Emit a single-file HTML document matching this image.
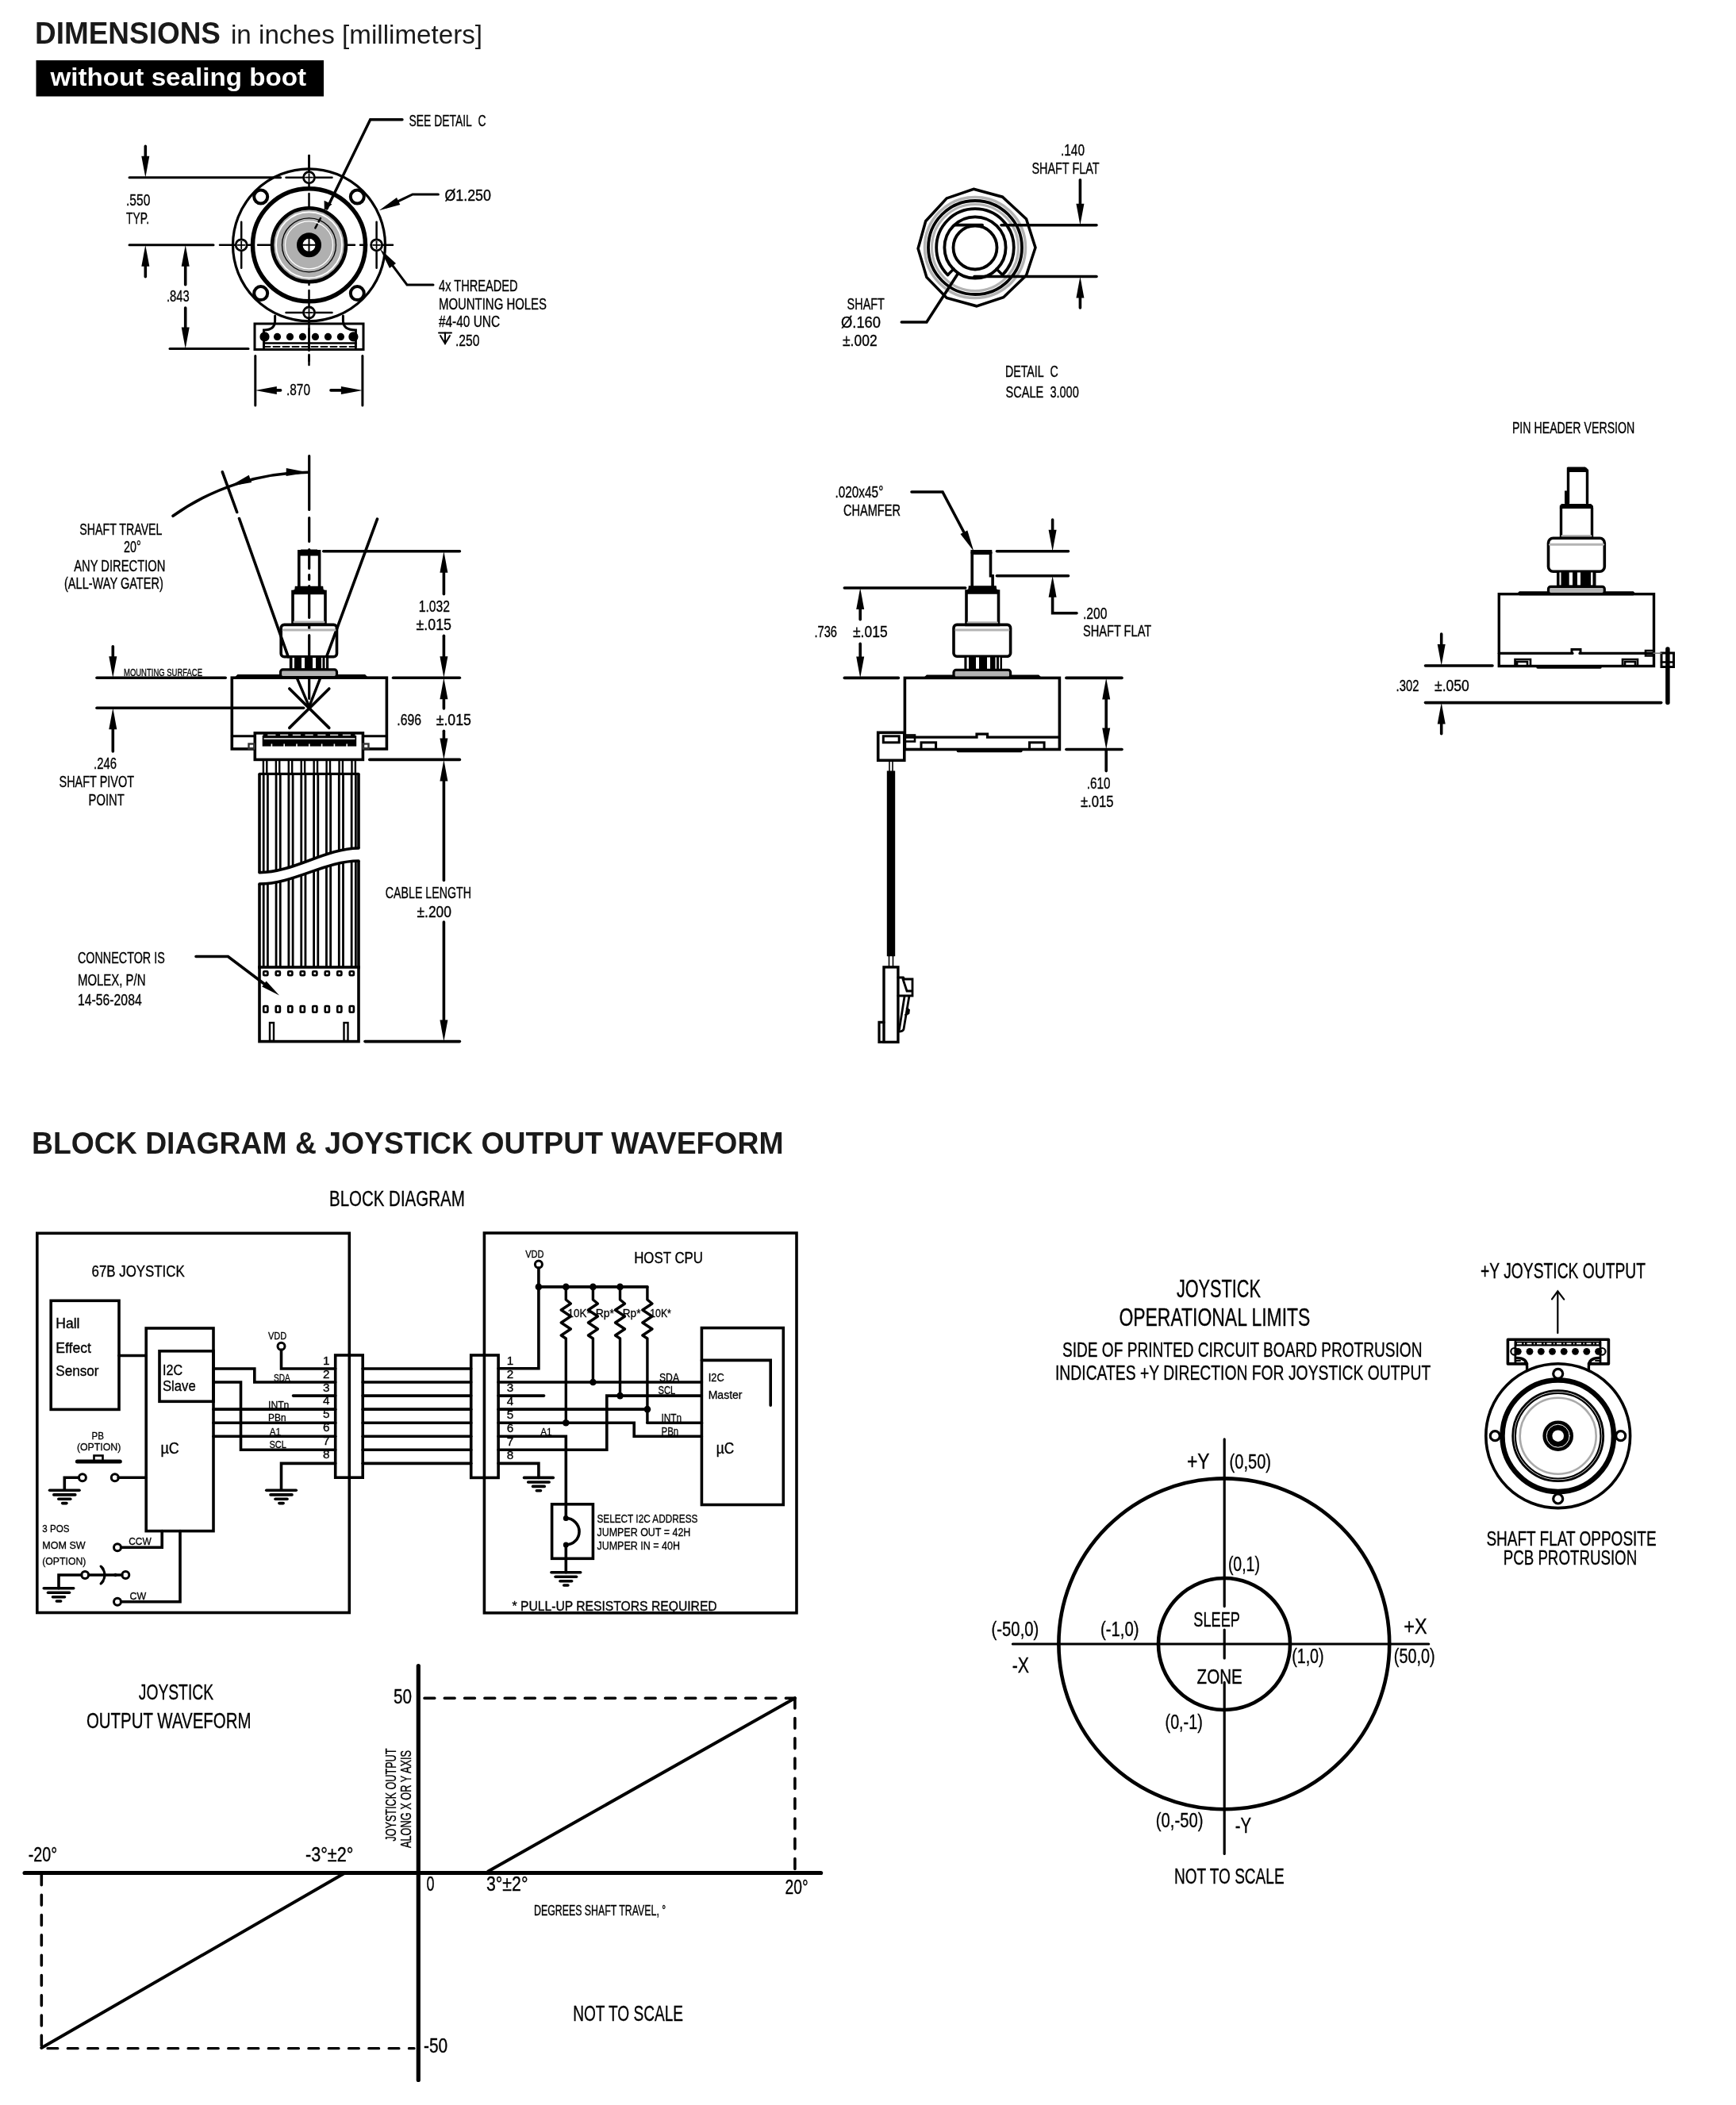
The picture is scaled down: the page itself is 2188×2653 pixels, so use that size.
<!DOCTYPE html>
<html><head><meta charset="utf-8"><style>
html,body{margin:0;padding:0;background:#fff;}
svg{display:block;will-change:transform;}
text{font-family:"Liberation Sans",sans-serif;}
</style></head><body>
<svg width="2188" height="2653" viewBox="0 0 2188 2653" stroke-linecap="round">
<rect x="0" y="0" width="2188" height="2653" fill="#fff"/>
<text x="44" y="55" font-size="38" text-anchor="start" font-weight="bold" fill="#1a1a1a" textLength="234" lengthAdjust="spacingAndGlyphs" >DIMENSIONS</text>
<text x="291" y="55" font-size="34" text-anchor="start" font-weight="normal" fill="#1a1a1a" textLength="317" lengthAdjust="spacingAndGlyphs" >in inches [millimeters]</text>
<rect x="45.5" y="76" width="362.5" height="45.5" stroke="#000" stroke-width="0" fill="#000" stroke="none"/>
<text x="63.5" y="108" font-size="32" text-anchor="start" font-weight="bold" fill="#fff" textLength="322.5" lengthAdjust="spacingAndGlyphs" >without sealing boot</text>
<text x="40" y="1454" font-size="38" text-anchor="start" font-weight="bold" fill="#1a1a1a" textLength="947.5" lengthAdjust="spacingAndGlyphs" >BLOCK DIAGRAM &amp; JOYSTICK OUTPUT WAVEFORM</text>
<line x1="277" y1="308.8" x2="502" y2="308.8" stroke="#000" stroke-width="2.5" stroke-dasharray="26,7,8,7"/>
<line x1="389.5" y1="196" x2="389.5" y2="300" stroke="#000" stroke-width="2.5" stroke-dasharray="26,7,8,7"/>
<line x1="389.5" y1="318" x2="389.5" y2="460" stroke="#000" stroke-width="2.5" stroke-dasharray="26,7,8,7"/>
<circle cx="389.5" cy="308.8" r="96" stroke="#000" stroke-width="3.2" fill="none" />
<circle cx="389.5" cy="308.8" r="71" stroke="#000" stroke-width="5.5" fill="none" />
<circle cx="389.5" cy="308.8" r="46.5" stroke="#000" stroke-width="4.5" fill="#b0b0b0" />
<circle cx="389.5" cy="308.8" r="41.5" stroke="#fff" stroke-width="1.8" fill="none" />
<circle cx="389.5" cy="308.8" r="34" stroke="#000" stroke-width="1.3" fill="none" />
<circle cx="389.5" cy="308.8" r="30" stroke="#fff" stroke-width="1.2" fill="none" />
<circle cx="389.5" cy="308.8" r="15.5" stroke="#000" stroke-width="0" fill="#000" stroke="none"/>
<circle cx="389.5" cy="308.8" r="8" stroke="#000" stroke-width="0" fill="#fff" stroke="none"/>
<line x1="381.5" y1="308.8" x2="397.5" y2="308.8" stroke="#000" stroke-width="2" />
<line x1="389.5" y1="300.8" x2="389.5" y2="316.8" stroke="#000" stroke-width="2" />
<circle cx="389.5" cy="223.7" r="7" stroke="#000" stroke-width="2.8" fill="#fff" />
<line x1="385.0" y1="223.7" x2="394.0" y2="223.7" stroke="#000" stroke-width="1.8" />
<line x1="389.5" y1="219.2" x2="389.5" y2="228.2" stroke="#000" stroke-width="1.8" />
<line x1="360.5" y1="223.7" x2="381.5" y2="223.7" stroke="#000" stroke-width="2.5" />
<line x1="397.5" y1="223.7" x2="418.5" y2="223.7" stroke="#000" stroke-width="2.5" />
<circle cx="304.2" cy="308.8" r="7" stroke="#000" stroke-width="2.8" fill="#fff" />
<line x1="299.7" y1="308.8" x2="308.7" y2="308.8" stroke="#000" stroke-width="1.8" />
<line x1="304.2" y1="304.3" x2="304.2" y2="313.3" stroke="#000" stroke-width="1.8" />
<line x1="304.2" y1="279.8" x2="304.2" y2="300.8" stroke="#000" stroke-width="2.5" />
<line x1="304.2" y1="316.8" x2="304.2" y2="337.8" stroke="#000" stroke-width="2.5" />
<circle cx="474.6" cy="308.8" r="7" stroke="#000" stroke-width="2.8" fill="#fff" />
<line x1="470.1" y1="308.8" x2="479.1" y2="308.8" stroke="#000" stroke-width="1.8" />
<line x1="474.6" y1="304.3" x2="474.6" y2="313.3" stroke="#000" stroke-width="1.8" />
<line x1="474.6" y1="279.8" x2="474.6" y2="300.8" stroke="#000" stroke-width="2.5" />
<line x1="474.6" y1="316.8" x2="474.6" y2="337.8" stroke="#000" stroke-width="2.5" />
<circle cx="389.5" cy="394" r="7" stroke="#000" stroke-width="2.8" fill="#fff" />
<line x1="385.0" y1="394" x2="394.0" y2="394" stroke="#000" stroke-width="1.8" />
<line x1="389.5" y1="389.5" x2="389.5" y2="398.5" stroke="#000" stroke-width="1.8" />
<line x1="360.5" y1="394" x2="381.5" y2="394" stroke="#000" stroke-width="2.5" />
<line x1="397.5" y1="394" x2="418.5" y2="394" stroke="#000" stroke-width="2.5" />
<line x1="389.5" y1="196" x2="389.5" y2="215" stroke="#000" stroke-width="2.5" />
<circle cx="328.7" cy="248.0" r="8.5" stroke="#000" stroke-width="4" fill="none" />
<circle cx="328.7" cy="369.6" r="8.5" stroke="#000" stroke-width="4" fill="none" />
<circle cx="450.3" cy="248.0" r="8.5" stroke="#000" stroke-width="4" fill="none" />
<circle cx="450.3" cy="369.6" r="8.5" stroke="#000" stroke-width="4" fill="none" />
<rect x="321" y="408" width="137" height="32.5" stroke="#000" stroke-width="3" fill="none" />
<path d="M346.6,398 L346.6,404 Q346.6,416 332.5,416 L332.5,438" stroke="#000" stroke-width="3" fill="none" />
<path d="M432.4,398 L432.4,404 Q432.4,416 448.4,416 L448.4,438" stroke="#000" stroke-width="3" fill="none" />
<line x1="332.5" y1="432.4" x2="448.4" y2="432.4" stroke="#000" stroke-width="2.5" />
<line x1="332.5" y1="437" x2="448.4" y2="437" stroke="#000" stroke-width="2" stroke-dasharray="8,4"/>
<circle cx="333.5" cy="424.4" r="5" stroke="#000" stroke-width="2.2" fill="none" />
<circle cx="333.5" cy="424.4" r="4.6" stroke="#000" stroke-width="0" fill="#000" stroke="none"/>
<circle cx="349.48571428571427" cy="424.4" r="4.6" stroke="#000" stroke-width="0" fill="#000" stroke="none"/>
<circle cx="365.4714285714286" cy="424.4" r="4.6" stroke="#000" stroke-width="0" fill="#000" stroke="none"/>
<circle cx="381.45714285714286" cy="424.4" r="4.6" stroke="#000" stroke-width="0" fill="#000" stroke="none"/>
<circle cx="397.4428571428571" cy="424.4" r="4.6" stroke="#000" stroke-width="0" fill="#000" stroke="none"/>
<circle cx="413.42857142857144" cy="424.4" r="4.6" stroke="#000" stroke-width="0" fill="#000" stroke="none"/>
<circle cx="429.4142857142857" cy="424.4" r="4.6" stroke="#000" stroke-width="0" fill="#000" stroke="none"/>
<circle cx="445.4" cy="424.4" r="5" stroke="#000" stroke-width="2.2" fill="none" />
<circle cx="445.4" cy="424.4" r="4.6" stroke="#000" stroke-width="0" fill="#000" stroke="none"/>
<line x1="389.5" y1="400" x2="389.5" y2="442" stroke="#000" stroke-width="2.5" />
<line x1="389.5" y1="448" x2="389.5" y2="460" stroke="#000" stroke-width="2.5" />
<line x1="163" y1="223.7" x2="353.6" y2="223.7" stroke="#000" stroke-width="3" />
<line x1="163" y1="308.8" x2="269" y2="308.8" stroke="#000" stroke-width="3" />
<line x1="183.3" y1="184.4" x2="183.3" y2="210" stroke="#000" stroke-width="3.6" />
<path d="M183.3,223.7 L178.3,196.7 L188.3,196.7 Z" fill="#000"/>
<line x1="183.3" y1="348.7" x2="183.3" y2="322" stroke="#000" stroke-width="3.6" />
<path d="M183.3,308.8 L188.3,335.8 L178.3,335.8 Z" fill="#000"/>
<text x="159" y="259" font-size="20.3" text-anchor="start" font-weight="normal" fill="#000" stroke="#000" stroke-width="0.35" textLength="30.3" lengthAdjust="spacingAndGlyphs" >.550</text>
<text x="159" y="282.2" font-size="20.3" text-anchor="start" font-weight="normal" fill="#000" stroke="#000" stroke-width="0.35" textLength="29" lengthAdjust="spacingAndGlyphs" >TYP.</text>
<line x1="233.7" y1="322" x2="233.7" y2="358.8" stroke="#000" stroke-width="3.6" />
<path d="M233.7,308.8 L238.7,335.8 L228.7,335.8 Z" fill="#000"/>
<line x1="233.7" y1="388" x2="233.7" y2="426" stroke="#000" stroke-width="3.6" />
<path d="M233.7,439.5 L228.7,412.5 L238.7,412.5 Z" fill="#000"/>
<text x="210" y="380" font-size="20.3" text-anchor="start" font-weight="normal" fill="#000" stroke="#000" stroke-width="0.35" textLength="28.7" lengthAdjust="spacingAndGlyphs" >.843</text>
<line x1="214" y1="439.5" x2="313" y2="439.5" stroke="#000" stroke-width="3" />
<line x1="321.8" y1="448.5" x2="321.8" y2="511" stroke="#000" stroke-width="3" />
<line x1="456.9" y1="448.5" x2="456.9" y2="511" stroke="#000" stroke-width="3" />
<line x1="335" y1="491.9" x2="353.6" y2="491.9" stroke="#000" stroke-width="3.6" />
<path d="M321.8,491.9 L348.8,486.9 L348.8,496.9 Z" fill="#000"/>
<line x1="417" y1="491.9" x2="443" y2="491.9" stroke="#000" stroke-width="3.6" />
<path d="M456.9,491.9 L429.9,496.9 L429.9,486.9 Z" fill="#000"/>
<text x="361" y="498" font-size="20.3" text-anchor="start" font-weight="normal" fill="#000" stroke="#000" stroke-width="0.35" textLength="30" lengthAdjust="spacingAndGlyphs" >.870</text>
<path d="M507,150.8 L466.7,150.8 L412,263" stroke="#000" stroke-width="3.4" fill="none" />
<path d="M408.8,265.0 L408.6,252.7 L418.5,257.5 Z" fill="#000"/>
<line x1="404" y1="275" x2="397" y2="288" stroke="#000" stroke-width="2.5" stroke-dasharray="5,4"/>
<text x="515.5" y="158.7" font-size="20.3" text-anchor="start" font-weight="normal" fill="#000" stroke="#000" stroke-width="0.35" textLength="97" lengthAdjust="spacingAndGlyphs" >SEE DETAIL  C</text>
<path d="M552.4,245 L520,245 L487,260.8" stroke="#000" stroke-width="3" fill="none" />
<path d="M477.8,265.2 L500.0,249.0 L504.3,258.1 Z" fill="#000"/>
<text x="560.4" y="253" font-size="20.3" text-anchor="start" font-weight="normal" fill="#000" stroke="#000" stroke-width="0.35" textLength="58.5" lengthAdjust="spacingAndGlyphs" >Ø1.250</text>
<path d="M546,359 L513,359 L485,321.5" stroke="#000" stroke-width="3" fill="none" />
<path d="M478.8,313.5 L499.0,332.1 L491.0,338.1 Z" fill="#000"/>
<text x="553" y="367" font-size="20.3" text-anchor="start" font-weight="normal" fill="#000" stroke="#000" stroke-width="0.35" textLength="99.6" lengthAdjust="spacingAndGlyphs" >4x THREADED</text>
<text x="553" y="389.8" font-size="20.3" text-anchor="start" font-weight="normal" fill="#000" stroke="#000" stroke-width="0.35" textLength="136" lengthAdjust="spacingAndGlyphs" >MOUNTING HOLES</text>
<text x="553" y="412.3" font-size="20.3" text-anchor="start" font-weight="normal" fill="#000" stroke="#000" stroke-width="0.35" textLength="77" lengthAdjust="spacingAndGlyphs" >#4-40 UNC</text>
<line x1="553" y1="419.5" x2="569" y2="419.5" stroke="#000" stroke-width="2" />
<path d="M555,423 L561,433 L567,423" stroke="#000" stroke-width="2" fill="none" />
<line x1="561" y1="419.5" x2="561" y2="433" stroke="#000" stroke-width="2" />
<text x="574" y="435.5" font-size="20.3" text-anchor="start" font-weight="normal" fill="#000" stroke="#000" stroke-width="0.35" textLength="30.5" lengthAdjust="spacingAndGlyphs" >.250</text>
<path d="M1227.1,238.3 L1263.5,248.2 L1293.5,275.9 L1305.0,312.1 L1293.5,347.1 L1264.7,374.7 L1230.8,385.8 L1193.2,375.4 L1167.9,349.4 L1157.1,313.2 L1166.7,278.7 L1193.2,249.9 Z" stroke="#000" stroke-width="3.5" fill="none" />
<circle cx="1229" cy="312" r="63.5" stroke="#b3b3b3" stroke-width="3.5" fill="none" />
<circle cx="1229" cy="312" r="59" stroke="#000" stroke-width="3.8" fill="none" />
<circle cx="1229" cy="312" r="54.5" stroke="#b3b3b3" stroke-width="3.2" fill="none" />
<path d="M1194.5,346.5 A48.8,48.8 0 1 1 1263.5,346.5" stroke="#000" stroke-width="3.8" fill="none" />
<circle cx="1229" cy="312" r="38.6" stroke="#000" stroke-width="3.8" fill="none" />
<line x1="1202.1299423149112" y1="338.8700576850888" x2="1194.7053211124523" y2="346.29467888754755" stroke="#000" stroke-width="3.5" />
<line x1="1255.8700576850888" y1="338.8700576850888" x2="1263.2946788875477" y2="346.29467888754755" stroke="#000" stroke-width="3.5" />
<circle cx="1229" cy="312" r="27.5" stroke="#000" stroke-width="3.8" fill="none" />
<line x1="1203.6" y1="283.7" x2="1238" y2="283.7" stroke="#000" stroke-width="3.8" />
<line x1="1262" y1="283.7" x2="1382" y2="283.7" stroke="#000" stroke-width="3.6" />
<line x1="1228" y1="348.5" x2="1382" y2="348.5" stroke="#000" stroke-width="3.6" />
<line x1="1361.4" y1="226.8" x2="1361.4" y2="260" stroke="#000" stroke-width="3.6" />
<path d="M1361.4,283.7 L1356.4,256.7 L1366.4,256.7 Z" fill="#000"/>
<line x1="1361.4" y1="388" x2="1361.4" y2="370" stroke="#000" stroke-width="3.6" />
<path d="M1361.4,348.5 L1366.4,375.5 L1356.4,375.5 Z" fill="#000"/>
<text x="1337" y="195.7" font-size="20.3" text-anchor="start" font-weight="normal" fill="#000" stroke="#000" stroke-width="0.35" textLength="30" lengthAdjust="spacingAndGlyphs" >.140</text>
<text x="1300.4" y="218.8" font-size="20.3" text-anchor="start" font-weight="normal" fill="#000" stroke="#000" stroke-width="0.35" textLength="85.2" lengthAdjust="spacingAndGlyphs" >SHAFT FLAT</text>
<text x="1067.6" y="390.4" font-size="20.3" text-anchor="start" font-weight="normal" fill="#000" stroke="#000" stroke-width="0.35" textLength="47.3" lengthAdjust="spacingAndGlyphs" >SHAFT</text>
<text x="1060" y="413" font-size="20.3" text-anchor="start" font-weight="normal" fill="#000" stroke="#000" stroke-width="0.35" textLength="50" lengthAdjust="spacingAndGlyphs" >Ø.160</text>
<text x="1062" y="436" font-size="20.3" text-anchor="start" font-weight="normal" fill="#000" stroke="#000" stroke-width="0.35" textLength="43.7" lengthAdjust="spacingAndGlyphs" >±.002</text>
<path d="M1136.3,406 L1167.9,406 L1207.7,344.3" stroke="#000" stroke-width="3.6" fill="none" />
<text x="1267" y="475.2" font-size="20.3" text-anchor="start" font-weight="normal" fill="#000" stroke="#000" stroke-width="0.35" textLength="66.8" lengthAdjust="spacingAndGlyphs" >DETAIL  C</text>
<text x="1267.6" y="501" font-size="20.3" text-anchor="start" font-weight="normal" fill="#000" stroke="#000" stroke-width="0.35" textLength="92.2" lengthAdjust="spacingAndGlyphs" >SCALE  3.000</text>
<text x="1905.9" y="545.7" font-size="20.3" text-anchor="start" font-weight="normal" fill="#000" stroke="#000" stroke-width="0.35" textLength="154.4" lengthAdjust="spacingAndGlyphs" >PIN HEADER VERSION</text>
<path d="M1976.5,634 L1976.5,591 L1998.5,591 L2000.5,593 L2000.5,634 M1976.5,620.3 L1973.7,620.3 L1973.7,634" stroke="#000" stroke-width="3.4" fill="none" />
<path d="M1976,589 L1998,589 L2001,592 L2001,594.5 L1976,594.5 Z" stroke="#000" stroke-width="1" fill="#000" />
<path d="M1968.5,635.5 L2005,635.5 L2007.4,637.5 L2007.4,640.5 L1966.3,640.5 L1966.3,637.5 Z" stroke="#000" stroke-width="1" fill="#000" />
<path d="M1967.5,640 L1967.5,678 M2006.5,640 L2006.5,678" stroke="#000" stroke-width="3.4" fill="none" />
<line x1="1969" y1="675.5" x2="2005" y2="675.5" stroke="#b3b3b3" stroke-width="3" />
<rect x="1951.5" y="678.2" width="70.8" height="42" stroke="#000" stroke-width="3.6" fill="none" rx="6"/>
<line x1="1953.5" y1="686.3" x2="2020.5" y2="686.3" stroke="#b3b3b3" stroke-width="3" />
<rect x="1962" y="720" width="49.5" height="19" stroke="#000" stroke-width="0" fill="#000" stroke="none"/>
<rect x="1965.5" y="721.5" width="2.0" height="16" stroke="#000" stroke-width="0" fill="#fff" stroke="none"/>
<rect x="1977.7" y="721.5" width="4.2999999999999545" height="16" stroke="#000" stroke-width="0" fill="#fff" stroke="none"/>
<rect x="1988" y="721.5" width="4" height="16" stroke="#000" stroke-width="0" fill="#fff" stroke="none"/>
<rect x="2005" y="721.5" width="2.5" height="16" stroke="#000" stroke-width="0" fill="#fff" stroke="none"/>
<rect x="1951.5" y="739.3" width="70.8" height="9.2" stroke="#000" stroke-width="3.2" fill="#b3b3b3" rx="3"/>
<path d="M1913.4,748.5 L1915.5,746.5 L1951.5,746.5 M2022.3,746.5 L2058,746.5 L2060,748.5" stroke="#000" stroke-width="2.6" fill="none" />
<line x1="1916" y1="750.2" x2="2058" y2="750.2" stroke="#a0a0a0" stroke-width="1.8" />
<rect x="1889.3" y="748.7" width="195.2" height="90.8" stroke="#000" stroke-width="3.4" fill="none" />
<line x1="1889.3" y1="823.4" x2="1982" y2="823.4" stroke="#000" stroke-width="3.2" />
<line x1="1991" y1="823.4" x2="2084.5" y2="823.4" stroke="#000" stroke-width="3.2" />
<path d="M1981,823.4 L1981,818.5 L1992,818.5 L1992,823.4" stroke="#000" stroke-width="3" fill="none" />
<path d="M1909.5,839 L1909.5,831 L1929,831 L1929,839 M1912,839 L1912,834 L1925,834 L1925,839" stroke="#000" stroke-width="2.6" fill="none" />
<path d="M2045,839 L2045,831 L2064,831 L2064,839 M2048,839 L2048,834 L2061,834 L2061,839" stroke="#000" stroke-width="2.6" fill="none" />
<line x1="1938" y1="841" x2="2017" y2="841" stroke="#000" stroke-width="3.4" />
<line x1="2101.9" y1="818" x2="2101.9" y2="885.5" stroke="#000" stroke-width="5.5" />
<rect x="2094" y="823" width="15.5" height="17.5" stroke="#000" stroke-width="3" fill="none" />
<line x1="2094" y1="834.5" x2="2109.5" y2="834.5" stroke="#000" stroke-width="2.4" />
<path d="M2084.5,820 L2074,820 L2074,826.5 L2084.5,826.5" stroke="#000" stroke-width="2.6" fill="none" />
<line x1="2084" y1="823.3" x2="2094" y2="823.3" stroke="#777" stroke-width="1.5" />
<line x1="1796.5" y1="839" x2="1881" y2="839" stroke="#000" stroke-width="3.6" />
<line x1="1796.5" y1="885.6" x2="2093.7" y2="885.6" stroke="#000" stroke-width="3.6" />
<line x1="1816.7" y1="799" x2="1816.7" y2="815" stroke="#000" stroke-width="3.6" />
<path d="M1816.7,839.0 L1811.7,812.0 L1821.7,812.0 Z" fill="#000"/>
<line x1="1816.7" y1="924.8" x2="1816.7" y2="910" stroke="#000" stroke-width="3.6" />
<path d="M1816.7,885.6 L1821.7,912.6 L1811.7,912.6 Z" fill="#000"/>
<text x="1759.6" y="870.6" font-size="20.3" text-anchor="start" font-weight="normal" fill="#000" stroke="#000" stroke-width="0.35" textLength="28.8" lengthAdjust="spacingAndGlyphs" >.302</text>
<text x="1808" y="870.6" font-size="20.3" text-anchor="start" font-weight="normal" fill="#000" stroke="#000" stroke-width="0.35" textLength="43.8" lengthAdjust="spacingAndGlyphs" >±.050</text>
<line x1="389.7" y1="574.5" x2="389.7" y2="890" stroke="#000" stroke-width="3.2" stroke-dasharray="68,10,30,10,24,8,6,8,40,8,6,8,28,8,6,8,30,8"/>
<path d="M218,650.3 A297,297 0 0 1 388.7,595.3" stroke="#000" stroke-width="3.6" fill="none" />
<path d="M388.7,595.5 L360.6,599.9 L360.8,589.9 Z" fill="#000"/>
<path d="M289.1,612.9 L313.7,598.7 L317.1,608.1 Z" fill="#000"/>
<line x1="280.3" y1="594.8" x2="298.7" y2="645.5" stroke="#000" stroke-width="3.6" />
<line x1="301.5" y1="653.5" x2="363.2" y2="827.7" stroke="#000" stroke-width="3.6" />
<line x1="475.5" y1="654.2" x2="411.6" y2="827.7" stroke="#000" stroke-width="3.6" />
<rect x="376.8" y="694.8" width="25.8" height="47.5" stroke="#000" stroke-width="3.6" fill="none" />
<path d="M379.5,693 L400,693 L403,696.5 L403,700 L376.5,700 L376.5,696.5 Z" stroke="#000" stroke-width="1" fill="#000" />
<path d="M372.5,739.5 L406.5,739.5 L407,743.5 L410,745 L410,748.5 L369,748.5 L369,745 L372,743.5 Z" stroke="#000" stroke-width="1.5" fill="#000" />
<rect x="369" y="745.5" width="41" height="40.3" stroke="#000" stroke-width="3.6" fill="none" />
<line x1="371" y1="784" x2="408" y2="784" stroke="#b3b3b3" stroke-width="3" />
<rect x="354.2" y="787.4" width="70.3" height="40.3" stroke="#000" stroke-width="3.6" fill="none" rx="4"/>
<line x1="357" y1="793.9" x2="422" y2="793.9" stroke="#b3b3b3" stroke-width="3" />
<rect x="364.8" y="828" width="49.4" height="15.9" stroke="#000" stroke-width="0" fill="#000" stroke="none"/>
<rect x="368.5" y="829" width="2.5" height="13.5" stroke="#000" stroke-width="0" fill="#fff" stroke="none"/>
<rect x="380" y="829" width="4" height="13.5" stroke="#000" stroke-width="0" fill="#fff" stroke="none"/>
<rect x="394" y="829" width="4" height="13.5" stroke="#000" stroke-width="0" fill="#fff" stroke="none"/>
<rect x="405" y="829" width="1.5" height="13.5" stroke="#000" stroke-width="0" fill="#fff" stroke="none"/>
<rect x="409.5" y="829" width="1.5" height="13.5" stroke="#000" stroke-width="0" fill="#fff" stroke="none"/>
<rect x="353.5" y="843.9" width="71" height="9.6" stroke="#000" stroke-width="3.2" fill="#b3b3b3" rx="3"/>
<path d="M298,853.5 L300,851.5 L353.5,851.5 M424.5,851.5 L459.5,851.5 L461.6,853.5" stroke="#000" stroke-width="3" fill="none" />
<rect x="292.3" y="854.2" width="195.1" height="89.7" stroke="#000" stroke-width="3.6" fill="none" />
<line x1="374.5" y1="855.2" x2="389.7" y2="890.6" stroke="#000" stroke-width="3.4" />
<line x1="403.5" y1="855.2" x2="389.7" y2="890.6" stroke="#000" stroke-width="3.4" />
<line x1="364.8" y1="868" x2="414.8" y2="917.4" stroke="#000" stroke-width="3.6" />
<line x1="414.8" y1="868" x2="364.8" y2="917.4" stroke="#000" stroke-width="3.6" />
<line x1="292.3" y1="927.7" x2="321.3" y2="927.7" stroke="#000" stroke-width="3" />
<line x1="457.4" y1="927.7" x2="487.4" y2="927.7" stroke="#000" stroke-width="3" />
<rect x="321.3" y="923.9" width="136.1" height="33.5" stroke="#000" stroke-width="3.6" fill="#fff" />
<rect x="330.7" y="927" width="118.5" height="13.6" stroke="#000" stroke-width="0" fill="#000" stroke="none"/>
<line x1="333" y1="931" x2="447" y2="931" stroke="#fff" stroke-width="1.4" />
<line x1="342.4" y1="937.5" x2="342.4" y2="941.5" stroke="#fff" stroke-width="1.6" stroke-linecap="butt"/>
<line x1="358.2" y1="937.5" x2="358.2" y2="941.5" stroke="#fff" stroke-width="1.6" stroke-linecap="butt"/>
<line x1="374.0" y1="937.5" x2="374.0" y2="941.5" stroke="#fff" stroke-width="1.6" stroke-linecap="butt"/>
<line x1="389.79999999999995" y1="937.5" x2="389.79999999999995" y2="941.5" stroke="#fff" stroke-width="1.6" stroke-linecap="butt"/>
<line x1="405.59999999999997" y1="937.5" x2="405.59999999999997" y2="941.5" stroke="#fff" stroke-width="1.6" stroke-linecap="butt"/>
<line x1="421.4" y1="937.5" x2="421.4" y2="941.5" stroke="#fff" stroke-width="1.6" stroke-linecap="butt"/>
<line x1="437.2" y1="937.5" x2="437.2" y2="941.5" stroke="#fff" stroke-width="1.6" stroke-linecap="butt"/>
<rect x="331.7" y="923.5" width="5.6" height="4" stroke="#000" stroke-width="0" fill="#000" stroke="none"/>
<rect x="347.45" y="923.5" width="5.6" height="4" stroke="#000" stroke-width="0" fill="#000" stroke="none"/>
<rect x="363.2" y="923.5" width="5.6" height="4" stroke="#000" stroke-width="0" fill="#000" stroke="none"/>
<rect x="378.95" y="923.5" width="5.6" height="4" stroke="#000" stroke-width="0" fill="#000" stroke="none"/>
<rect x="394.7" y="923.5" width="5.6" height="4" stroke="#000" stroke-width="0" fill="#000" stroke="none"/>
<rect x="410.45" y="923.5" width="5.6" height="4" stroke="#000" stroke-width="0" fill="#000" stroke="none"/>
<rect x="426.2" y="923.5" width="5.6" height="4" stroke="#000" stroke-width="0" fill="#000" stroke="none"/>
<rect x="441.95" y="923.5" width="5.6" height="4" stroke="#000" stroke-width="0" fill="#000" stroke="none"/>
<rect x="313.5" y="937.5" width="7" height="6" stroke="#333" stroke-width="2.4" fill="none" />
<rect x="457.5" y="937.5" width="7" height="6" stroke="#333" stroke-width="2.4" fill="none" />
<line x1="331.90000000000003" y1="957.4" x2="331.90000000000003" y2="976" stroke="#000" stroke-width="2.4" stroke-linecap="butt"/>
<line x1="336.3" y1="957.4" x2="336.3" y2="976" stroke="#000" stroke-width="2.4" stroke-linecap="butt"/>
<line x1="331.90000000000003" y1="1204" x2="331.90000000000003" y2="1219" stroke="#000" stroke-width="2.4" stroke-linecap="butt"/>
<line x1="336.3" y1="1204" x2="336.3" y2="1219" stroke="#000" stroke-width="2.4" stroke-linecap="butt"/>
<line x1="347.84000000000003" y1="957.4" x2="347.84000000000003" y2="976" stroke="#000" stroke-width="2.4" stroke-linecap="butt"/>
<line x1="352.24" y1="957.4" x2="352.24" y2="976" stroke="#000" stroke-width="2.4" stroke-linecap="butt"/>
<line x1="347.84000000000003" y1="1204" x2="347.84000000000003" y2="1219" stroke="#000" stroke-width="2.4" stroke-linecap="butt"/>
<line x1="352.24" y1="1204" x2="352.24" y2="1219" stroke="#000" stroke-width="2.4" stroke-linecap="butt"/>
<line x1="363.78000000000003" y1="957.4" x2="363.78000000000003" y2="976" stroke="#000" stroke-width="2.4" stroke-linecap="butt"/>
<line x1="368.18" y1="957.4" x2="368.18" y2="976" stroke="#000" stroke-width="2.4" stroke-linecap="butt"/>
<line x1="363.78000000000003" y1="1204" x2="363.78000000000003" y2="1219" stroke="#000" stroke-width="2.4" stroke-linecap="butt"/>
<line x1="368.18" y1="1204" x2="368.18" y2="1219" stroke="#000" stroke-width="2.4" stroke-linecap="butt"/>
<line x1="379.72" y1="957.4" x2="379.72" y2="976" stroke="#000" stroke-width="2.4" stroke-linecap="butt"/>
<line x1="384.12" y1="957.4" x2="384.12" y2="976" stroke="#000" stroke-width="2.4" stroke-linecap="butt"/>
<line x1="379.72" y1="1204" x2="379.72" y2="1219" stroke="#000" stroke-width="2.4" stroke-linecap="butt"/>
<line x1="384.12" y1="1204" x2="384.12" y2="1219" stroke="#000" stroke-width="2.4" stroke-linecap="butt"/>
<line x1="395.66" y1="957.4" x2="395.66" y2="976" stroke="#000" stroke-width="2.4" stroke-linecap="butt"/>
<line x1="400.06" y1="957.4" x2="400.06" y2="976" stroke="#000" stroke-width="2.4" stroke-linecap="butt"/>
<line x1="395.66" y1="1204" x2="395.66" y2="1219" stroke="#000" stroke-width="2.4" stroke-linecap="butt"/>
<line x1="400.06" y1="1204" x2="400.06" y2="1219" stroke="#000" stroke-width="2.4" stroke-linecap="butt"/>
<line x1="411.6" y1="957.4" x2="411.6" y2="976" stroke="#000" stroke-width="2.4" stroke-linecap="butt"/>
<line x1="416.0" y1="957.4" x2="416.0" y2="976" stroke="#000" stroke-width="2.4" stroke-linecap="butt"/>
<line x1="411.6" y1="1204" x2="411.6" y2="1219" stroke="#000" stroke-width="2.4" stroke-linecap="butt"/>
<line x1="416.0" y1="1204" x2="416.0" y2="1219" stroke="#000" stroke-width="2.4" stroke-linecap="butt"/>
<line x1="427.54" y1="957.4" x2="427.54" y2="976" stroke="#000" stroke-width="2.4" stroke-linecap="butt"/>
<line x1="431.94" y1="957.4" x2="431.94" y2="976" stroke="#000" stroke-width="2.4" stroke-linecap="butt"/>
<line x1="427.54" y1="1204" x2="427.54" y2="1219" stroke="#000" stroke-width="2.4" stroke-linecap="butt"/>
<line x1="431.94" y1="1204" x2="431.94" y2="1219" stroke="#000" stroke-width="2.4" stroke-linecap="butt"/>
<line x1="443.48" y1="957.4" x2="443.48" y2="976" stroke="#000" stroke-width="2.4" stroke-linecap="butt"/>
<line x1="447.88" y1="957.4" x2="447.88" y2="976" stroke="#000" stroke-width="2.4" stroke-linecap="butt"/>
<line x1="443.48" y1="1204" x2="443.48" y2="1219" stroke="#000" stroke-width="2.4" stroke-linecap="butt"/>
<line x1="447.88" y1="1204" x2="447.88" y2="1219" stroke="#000" stroke-width="2.4" stroke-linecap="butt"/>
<clipPath id="cu"><path d="M300,975.5 L480,975.5 L480,1069 L452,1069 C410,1069 370,1099.7 327,1099.7 L300,1099.7 Z"/></clipPath>
<clipPath id="cl"><path d="M300,1250 L480,1250 L480,1085 L452,1085 C410,1085 370,1114 327,1114 L300,1114 Z"/></clipPath>
<g clip-path="url(#cu)">
<rect x="300" y="960" width="180" height="260" fill="#fff"/>
<line x1="327" y1="960" x2="327" y2="1220" stroke="#000" stroke-width="3.6" />
<line x1="452" y1="960" x2="452" y2="1220" stroke="#000" stroke-width="3.6" />
<line x1="332.2" y1="960" x2="332.2" y2="1220" stroke="#000" stroke-width="2.8" />
<line x1="337.40000000000003" y1="960" x2="337.40000000000003" y2="1220" stroke="#000" stroke-width="2.8" />
<line x1="348.05" y1="960" x2="348.05" y2="1220" stroke="#000" stroke-width="2.8" />
<line x1="353.25000000000006" y1="960" x2="353.25000000000006" y2="1220" stroke="#000" stroke-width="2.8" />
<line x1="363.9" y1="960" x2="363.9" y2="1220" stroke="#000" stroke-width="2.8" />
<line x1="369.1" y1="960" x2="369.1" y2="1220" stroke="#000" stroke-width="2.8" />
<line x1="379.75" y1="960" x2="379.75" y2="1220" stroke="#000" stroke-width="2.8" />
<line x1="384.95000000000005" y1="960" x2="384.95000000000005" y2="1220" stroke="#000" stroke-width="2.8" />
<line x1="395.59999999999997" y1="960" x2="395.59999999999997" y2="1220" stroke="#000" stroke-width="2.8" />
<line x1="400.8" y1="960" x2="400.8" y2="1220" stroke="#000" stroke-width="2.8" />
<line x1="411.45" y1="960" x2="411.45" y2="1220" stroke="#000" stroke-width="2.8" />
<line x1="416.65000000000003" y1="960" x2="416.65000000000003" y2="1220" stroke="#000" stroke-width="2.8" />
<line x1="427.29999999999995" y1="960" x2="427.29999999999995" y2="1220" stroke="#000" stroke-width="2.8" />
<line x1="432.5" y1="960" x2="432.5" y2="1220" stroke="#000" stroke-width="2.8" />
<line x1="443.15" y1="960" x2="443.15" y2="1220" stroke="#000" stroke-width="2.8" />
<line x1="448.35" y1="960" x2="448.35" y2="1220" stroke="#000" stroke-width="2.8" />
</g>
<g clip-path="url(#cl)">
<rect x="300" y="960" width="180" height="260" fill="#fff"/>
<line x1="327" y1="960" x2="327" y2="1220" stroke="#000" stroke-width="3.6" />
<line x1="452" y1="960" x2="452" y2="1220" stroke="#000" stroke-width="3.6" />
<line x1="332.2" y1="960" x2="332.2" y2="1220" stroke="#000" stroke-width="2.8" />
<line x1="337.40000000000003" y1="960" x2="337.40000000000003" y2="1220" stroke="#000" stroke-width="2.8" />
<line x1="348.05" y1="960" x2="348.05" y2="1220" stroke="#000" stroke-width="2.8" />
<line x1="353.25000000000006" y1="960" x2="353.25000000000006" y2="1220" stroke="#000" stroke-width="2.8" />
<line x1="363.9" y1="960" x2="363.9" y2="1220" stroke="#000" stroke-width="2.8" />
<line x1="369.1" y1="960" x2="369.1" y2="1220" stroke="#000" stroke-width="2.8" />
<line x1="379.75" y1="960" x2="379.75" y2="1220" stroke="#000" stroke-width="2.8" />
<line x1="384.95000000000005" y1="960" x2="384.95000000000005" y2="1220" stroke="#000" stroke-width="2.8" />
<line x1="395.59999999999997" y1="960" x2="395.59999999999997" y2="1220" stroke="#000" stroke-width="2.8" />
<line x1="400.8" y1="960" x2="400.8" y2="1220" stroke="#000" stroke-width="2.8" />
<line x1="411.45" y1="960" x2="411.45" y2="1220" stroke="#000" stroke-width="2.8" />
<line x1="416.65000000000003" y1="960" x2="416.65000000000003" y2="1220" stroke="#000" stroke-width="2.8" />
<line x1="427.29999999999995" y1="960" x2="427.29999999999995" y2="1220" stroke="#000" stroke-width="2.8" />
<line x1="432.5" y1="960" x2="432.5" y2="1220" stroke="#000" stroke-width="2.8" />
<line x1="443.15" y1="960" x2="443.15" y2="1220" stroke="#000" stroke-width="2.8" />
<line x1="448.35" y1="960" x2="448.35" y2="1220" stroke="#000" stroke-width="2.8" />
</g>
<path d="M327,1099.7 C370,1099.7 410,1069 452,1069" stroke="#000" stroke-width="3.6" fill="none" />
<line x1="327" y1="975.3" x2="452" y2="975.3" stroke="#000" stroke-width="3.2" />
<path d="M327,1114 C370,1114 410,1085 452,1085" stroke="#000" stroke-width="3.6" fill="none" />
<rect x="327" y="1219" width="125" height="93.6" stroke="#000" stroke-width="3.6" fill="#fff" />
<rect x="332.2" y="1224.2" width="5.2" height="5" stroke="#000" stroke-width="2.6" fill="none" rx="1"/>
<rect x="332.2" y="1268" width="5.2" height="7.8" stroke="#000" stroke-width="2.6" fill="none" rx="1"/>
<rect x="347.7" y="1224.2" width="5.2" height="5" stroke="#000" stroke-width="2.6" fill="none" rx="1"/>
<rect x="347.7" y="1268" width="5.2" height="7.8" stroke="#000" stroke-width="2.6" fill="none" rx="1"/>
<rect x="363.2" y="1224.2" width="5.2" height="5" stroke="#000" stroke-width="2.6" fill="none" rx="1"/>
<rect x="363.2" y="1268" width="5.2" height="7.8" stroke="#000" stroke-width="2.6" fill="none" rx="1"/>
<rect x="378.7" y="1224.2" width="5.2" height="5" stroke="#000" stroke-width="2.6" fill="none" rx="1"/>
<rect x="378.7" y="1268" width="5.2" height="7.8" stroke="#000" stroke-width="2.6" fill="none" rx="1"/>
<rect x="394.2" y="1224.2" width="5.2" height="5" stroke="#000" stroke-width="2.6" fill="none" rx="1"/>
<rect x="394.2" y="1268" width="5.2" height="7.8" stroke="#000" stroke-width="2.6" fill="none" rx="1"/>
<rect x="409.7" y="1224.2" width="5.2" height="5" stroke="#000" stroke-width="2.6" fill="none" rx="1"/>
<rect x="409.7" y="1268" width="5.2" height="7.8" stroke="#000" stroke-width="2.6" fill="none" rx="1"/>
<rect x="425.2" y="1224.2" width="5.2" height="5" stroke="#000" stroke-width="2.6" fill="none" rx="1"/>
<rect x="425.2" y="1268" width="5.2" height="7.8" stroke="#000" stroke-width="2.6" fill="none" rx="1"/>
<rect x="440.7" y="1224.2" width="5.2" height="5" stroke="#000" stroke-width="2.6" fill="none" rx="1"/>
<rect x="440.7" y="1268" width="5.2" height="7.8" stroke="#000" stroke-width="2.6" fill="none" rx="1"/>
<rect x="340" y="1289" width="5" height="23" stroke="#000" stroke-width="2.4" fill="none" />
<rect x="433.5" y="1289" width="5" height="23" stroke="#000" stroke-width="2.4" fill="none" />
<line x1="407.7" y1="694.8" x2="579.4" y2="694.8" stroke="#000" stroke-width="3.6" />
<line x1="495.5" y1="854.2" x2="579.4" y2="854.2" stroke="#000" stroke-width="3.6" />
<line x1="465.8" y1="957.4" x2="579.4" y2="957.4" stroke="#000" stroke-width="3.6" />
<line x1="460" y1="1312.6" x2="579.4" y2="1312.6" stroke="#000" stroke-width="3.6" />
<line x1="559.4" y1="715" x2="559.4" y2="748.7" stroke="#000" stroke-width="3.6" />
<path d="M559.4,694.8 L564.4,721.8 L554.4,721.8 Z" fill="#000"/>
<line x1="559.4" y1="801.3" x2="559.4" y2="830" stroke="#000" stroke-width="3.6" />
<path d="M559.4,854.2 L554.4,827.2 L564.4,827.2 Z" fill="#000"/>
<line x1="559.4" y1="875" x2="559.4" y2="893" stroke="#000" stroke-width="3.6" />
<path d="M559.4,854.2 L564.4,881.2 L554.4,881.2 Z" fill="#000"/>
<line x1="559.4" y1="921.3" x2="559.4" y2="935" stroke="#000" stroke-width="3.6" />
<path d="M559.4,957.4 L554.4,930.4 L564.4,930.4 Z" fill="#000"/>
<line x1="559.4" y1="980" x2="559.4" y2="1109.4" stroke="#000" stroke-width="3.6" />
<path d="M559.4,957.4 L564.4,984.4 L554.4,984.4 Z" fill="#000"/>
<line x1="559.4" y1="1162" x2="559.4" y2="1290" stroke="#000" stroke-width="3.6" />
<path d="M559.4,1312.6 L554.4,1285.6 L564.4,1285.6 Z" fill="#000"/>
<text x="527.7" y="771.3" font-size="20.3" text-anchor="start" font-weight="normal" fill="#000" stroke="#000" stroke-width="0.35" textLength="39.3" lengthAdjust="spacingAndGlyphs" >1.032</text>
<text x="524.5" y="793.9" font-size="20.3" text-anchor="start" font-weight="normal" fill="#000" stroke="#000" stroke-width="0.35" textLength="44.5" lengthAdjust="spacingAndGlyphs" >±.015</text>
<text x="500.3" y="914.2" font-size="20.3" text-anchor="start" font-weight="normal" fill="#000" stroke="#000" stroke-width="0.35" textLength="30.7" lengthAdjust="spacingAndGlyphs" >.696</text>
<text x="549.7" y="914.2" font-size="20.3" text-anchor="start" font-weight="normal" fill="#000" stroke="#000" stroke-width="0.35" textLength="44.2" lengthAdjust="spacingAndGlyphs" >±.015</text>
<text x="485.8" y="1132" font-size="20.3" text-anchor="start" font-weight="normal" fill="#000" stroke="#000" stroke-width="0.35" textLength="108.1" lengthAdjust="spacingAndGlyphs" >CABLE LENGTH</text>
<text x="525.5" y="1155.5" font-size="20.3" text-anchor="start" font-weight="normal" fill="#000" stroke="#000" stroke-width="0.35" textLength="43.5" lengthAdjust="spacingAndGlyphs" >±.200</text>
<line x1="122" y1="854.2" x2="284.2" y2="854.2" stroke="#000" stroke-width="3.6" />
<text x="156" y="852" font-size="12.5" text-anchor="start" font-weight="normal" fill="#000" stroke="#000" stroke-width="0.3" textLength="99" lengthAdjust="spacingAndGlyphs" >MOUNTING SURFACE</text>
<line x1="142.3" y1="814.8" x2="142.3" y2="835" stroke="#000" stroke-width="3.6" />
<path d="M142.3,854.2 L137.3,827.2 L147.3,827.2 Z" fill="#000"/>
<line x1="122" y1="892.3" x2="382.6" y2="892.3" stroke="#000" stroke-width="3.6" />
<line x1="142.3" y1="947" x2="142.3" y2="915" stroke="#000" stroke-width="3.6" />
<path d="M142.3,892.3 L147.3,919.3 L137.3,919.3 Z" fill="#000"/>
<text x="118" y="969" font-size="20.3" text-anchor="start" font-weight="normal" fill="#000" stroke="#000" stroke-width="0.35" textLength="29" lengthAdjust="spacingAndGlyphs" >.246</text>
<text x="74.5" y="992.3" font-size="20.3" text-anchor="start" font-weight="normal" fill="#000" stroke="#000" stroke-width="0.35" textLength="94.5" lengthAdjust="spacingAndGlyphs" >SHAFT PIVOT</text>
<text x="111.6" y="1014.8" font-size="20.3" text-anchor="start" font-weight="normal" fill="#000" stroke="#000" stroke-width="0.35" textLength="45.2" lengthAdjust="spacingAndGlyphs" >POINT</text>
<text x="100.3" y="673.5" font-size="20.3" text-anchor="start" font-weight="normal" fill="#000" stroke="#000" stroke-width="0.35" textLength="104.2" lengthAdjust="spacingAndGlyphs" >SHAFT TRAVEL</text>
<text x="156" y="696" font-size="20.3" text-anchor="start" font-weight="normal" fill="#000" stroke="#000" stroke-width="0.35" textLength="21.7" lengthAdjust="spacingAndGlyphs" >20°</text>
<text x="93.2" y="719.7" font-size="20.3" text-anchor="start" font-weight="normal" fill="#000" stroke="#000" stroke-width="0.35" textLength="115.2" lengthAdjust="spacingAndGlyphs" >ANY DIRECTION</text>
<text x="81" y="742.3" font-size="20.3" text-anchor="start" font-weight="normal" fill="#000" stroke="#000" stroke-width="0.35" textLength="124.8" lengthAdjust="spacingAndGlyphs" >(ALL-WAY GATER)</text>
<text x="98" y="1213.5" font-size="20.3" text-anchor="start" font-weight="normal" fill="#000" stroke="#000" stroke-width="0.35" textLength="109.7" lengthAdjust="spacingAndGlyphs" >CONNECTOR IS</text>
<text x="98" y="1241.6" font-size="20.3" text-anchor="start" font-weight="normal" fill="#000" stroke="#000" stroke-width="0.35" textLength="85.5" lengthAdjust="spacingAndGlyphs" >MOLEX, P/N</text>
<text x="98" y="1267.4" font-size="20.3" text-anchor="start" font-weight="normal" fill="#000" stroke="#000" stroke-width="0.35" textLength="80.7" lengthAdjust="spacingAndGlyphs" >14-56-2084</text>
<path d="M247,1205.5 L287.4,1205.5 L335,1241.5" stroke="#000" stroke-width="3.6" fill="none" />
<path d="M352.0,1254.5 L330.2,1243.5 L335.6,1236.4 Z" fill="#000"/>
<path d="M1225.2,741 L1225.2,694.7 L1248.5,694.7 L1248.5,725.7 L1251.1,725.7 L1251.1,741" stroke="#000" stroke-width="3.6" fill="none" />
<line x1="1226" y1="696.5" x2="1248" y2="696.5" stroke="#000" stroke-width="5" />
<path d="M1221.5,739 L1255,739 L1255.5,743 L1258.5,744.5 L1258.5,748 L1218,748 L1218,744.5 L1221,743 Z" stroke="#000" stroke-width="1.5" fill="#000" />
<rect x="1218" y="745" width="40.5" height="42.4" stroke="#000" stroke-width="3.6" fill="none" />
<line x1="1220" y1="784.8" x2="1256.5" y2="784.8" stroke="#b3b3b3" stroke-width="3" />
<rect x="1202" y="787.4" width="71.6" height="39.8" stroke="#000" stroke-width="3.6" fill="none" rx="4"/>
<line x1="1205" y1="794" x2="1271" y2="794" stroke="#b3b3b3" stroke-width="3" />
<rect x="1215.4" y="827.5" width="47.6" height="16.9" stroke="#000" stroke-width="0" fill="#000" stroke="none"/>
<rect x="1218.5" y="828.5" width="2.5" height="14.5" stroke="#000" stroke-width="0" fill="#fff" stroke="none"/>
<rect x="1230" y="828.5" width="4" height="14.5" stroke="#000" stroke-width="0" fill="#fff" stroke="none"/>
<rect x="1244" y="828.5" width="4" height="14.5" stroke="#000" stroke-width="0" fill="#fff" stroke="none"/>
<rect x="1254.5" y="828.5" width="1.5" height="14.5" stroke="#000" stroke-width="0" fill="#fff" stroke="none"/>
<rect x="1259" y="828.5" width="1.5" height="14.5" stroke="#000" stroke-width="0" fill="#fff" stroke="none"/>
<rect x="1202" y="844.4" width="71.6" height="10" stroke="#000" stroke-width="3.2" fill="#b3b3b3" rx="3"/>
<path d="M1166.3,854 L1168.5,852 L1202,852 M1273.6,852 L1308.6,852 L1310.8,854" stroke="#000" stroke-width="3" fill="none" />
<rect x="1140.4" y="854.4" width="195" height="90.1" stroke="#000" stroke-width="3.6" fill="none" />
<path d="M1140.4,929.2 L1231,929.2 L1231,925.2 L1244.5,925.2 L1244.5,929.2 L1335.4,929.2" stroke="#000" stroke-width="3.2" fill="none" />
<rect x="1161" y="935.8" width="18.6" height="8.7" stroke="#000" stroke-width="3" fill="none" />
<rect x="1297.5" y="935.8" width="18.6" height="8.7" stroke="#000" stroke-width="3" fill="none" />
<line x1="1207.4" y1="946.5" x2="1286.9" y2="946.5" stroke="#000" stroke-width="3.4" />
<rect x="1106.7" y="923.3" width="33.1" height="35" stroke="#000" stroke-width="3.6" fill="#fff" />
<rect x="1113.3" y="927.8" width="19.9" height="8" stroke="#000" stroke-width="3" fill="none" />
<rect x="1139.8" y="926.5" width="13.2" height="8" stroke="#000" stroke-width="2.6" fill="none" />
<line x1="1121" y1="958.3" x2="1121" y2="971.5" stroke="#000" stroke-width="1.6" />
<line x1="1125" y1="958.3" x2="1125" y2="971.5" stroke="#000" stroke-width="1.6" />
<rect x="1117.8" y="971.5" width="10.4" height="233.7" stroke="#000" stroke-width="0" fill="#000" stroke="none"/>
<line x1="1120.5" y1="1205.2" x2="1120.5" y2="1218.9" stroke="#000" stroke-width="1.6" />
<line x1="1125.5" y1="1205.2" x2="1125.5" y2="1218.9" stroke="#000" stroke-width="1.6" />
<rect x="1114" y="1218.9" width="17.9" height="94.5" stroke="#000" stroke-width="3.4" fill="#fff" />
<path d="M1114,1288.4 L1108,1288.4 L1108,1313.4 L1114,1313.4" stroke="#000" stroke-width="3.2" fill="none" />
<path d="M1131.9,1232 L1138.5,1232 L1140,1234 L1150,1234 L1150,1255 L1131.9,1255 M1138,1234 L1143,1249 L1148,1249 M1146,1255 L1139,1297 Q1138,1300 1133,1300 M1140,1256 L1133.5,1297 M1143,1271 L1145.5,1273 L1145,1277 L1141.5,1279" stroke="#000" stroke-width="2.8" fill="none" />
<line x1="1064.3" y1="741" x2="1216.7" y2="741" stroke="#000" stroke-width="3.6" />
<line x1="1064.3" y1="854.4" x2="1132.4" y2="854.4" stroke="#000" stroke-width="3.6" />
<line x1="1084.2" y1="765" x2="1084.2" y2="780.8" stroke="#000" stroke-width="3.6" />
<path d="M1084.2,741.0 L1089.2,768.0 L1079.2,768.0 Z" fill="#000"/>
<line x1="1084.2" y1="811.2" x2="1084.2" y2="830" stroke="#000" stroke-width="3.6" />
<path d="M1084.2,854.4 L1079.2,827.4 L1089.2,827.4 Z" fill="#000"/>
<text x="1026.4" y="803.3" font-size="20.3" text-anchor="start" font-weight="normal" fill="#000" stroke="#000" stroke-width="0.35" textLength="28.6" lengthAdjust="spacingAndGlyphs" >.736</text>
<text x="1075" y="803.3" font-size="20.3" text-anchor="start" font-weight="normal" fill="#000" stroke="#000" stroke-width="0.35" textLength="43.6" lengthAdjust="spacingAndGlyphs" >±.015</text>
<line x1="1256.4" y1="694.7" x2="1346.5" y2="694.7" stroke="#000" stroke-width="3.6" />
<line x1="1256.4" y1="725.7" x2="1346.5" y2="725.7" stroke="#000" stroke-width="3.6" />
<line x1="1326.6" y1="655" x2="1326.6" y2="670" stroke="#000" stroke-width="3.6" />
<path d="M1326.6,694.7 L1321.6,667.7 L1331.6,667.7 Z" fill="#000"/>
<path d="M1326.6,750 L1326.6,772.8 L1357,772.8" stroke="#000" stroke-width="3.6" fill="none" />
<path d="M1326.6,725.7 L1331.6,752.7 L1321.6,752.7 Z" fill="#000"/>
<text x="1365" y="779.5" font-size="20.3" text-anchor="start" font-weight="normal" fill="#000" stroke="#000" stroke-width="0.35" textLength="30.5" lengthAdjust="spacingAndGlyphs" >.200</text>
<text x="1365" y="802" font-size="20.3" text-anchor="start" font-weight="normal" fill="#000" stroke="#000" stroke-width="0.35" textLength="86.2" lengthAdjust="spacingAndGlyphs" >SHAFT FLAT</text>
<text x="1052.4" y="627.1" font-size="20.3" text-anchor="start" font-weight="normal" fill="#000" stroke="#000" stroke-width="0.35" textLength="60.9" lengthAdjust="spacingAndGlyphs" >.020x45°</text>
<text x="1063" y="650.4" font-size="20.3" text-anchor="start" font-weight="normal" fill="#000" stroke="#000" stroke-width="0.35" textLength="72" lengthAdjust="spacingAndGlyphs" >CHAMFER</text>
<path d="M1149,620 L1188,620 L1215,671" stroke="#000" stroke-width="3.6" fill="none" />
<path d="M1227.3,694.7 L1210.5,673.0 L1219.3,668.4 Z" fill="#000"/>
<line x1="1343.9" y1="854.4" x2="1414" y2="854.4" stroke="#000" stroke-width="3.6" />
<line x1="1343.9" y1="944.5" x2="1414" y2="944.5" stroke="#000" stroke-width="3.6" />
<line x1="1394.2" y1="878" x2="1394.2" y2="920" stroke="#000" stroke-width="3.6" />
<path d="M1394.2,854.4 L1399.2,881.4 L1389.2,881.4 Z" fill="#000"/>
<path d="M1394.2,944.5 L1389.2,917.5 L1399.2,917.5 Z" fill="#000"/>
<line x1="1394.2" y1="944.5" x2="1394.2" y2="971.6" stroke="#000" stroke-width="3.6" />
<text x="1369.8" y="994.1" font-size="20.3" text-anchor="start" font-weight="normal" fill="#000" stroke="#000" stroke-width="0.35" textLength="29.7" lengthAdjust="spacingAndGlyphs" >.610</text>
<text x="1361.9" y="1016.6" font-size="20.3" text-anchor="start" font-weight="normal" fill="#000" stroke="#000" stroke-width="0.35" textLength="41.6" lengthAdjust="spacingAndGlyphs" >±.015</text>
<text x="415" y="1519.6" font-size="28.4" text-anchor="start" font-weight="normal" fill="#000" stroke="#000" stroke-width="0.35" textLength="170.7" lengthAdjust="spacingAndGlyphs" >BLOCK DIAGRAM</text>
<rect x="46.8" y="1554.3" width="393.5" height="478.2" stroke="#000" stroke-width="3.6" fill="none" />
<text x="115.5" y="1608.7" font-size="20" text-anchor="start" font-weight="normal" fill="#000" stroke="#000" stroke-width="0.35" textLength="117.2" lengthAdjust="spacingAndGlyphs" >67B JOYSTICK</text>
<rect x="64.2" y="1639.3" width="85.8" height="137.1" stroke="#000" stroke-width="3.6" fill="none" />
<text x="70.2" y="1673.5" font-size="18.5" text-anchor="start" font-weight="normal" fill="#000" stroke="#000" stroke-width="0.35" textLength="30.3" lengthAdjust="spacingAndGlyphs" >Hall</text>
<text x="70.2" y="1704.6" font-size="18.5" text-anchor="start" font-weight="normal" fill="#000" stroke="#000" stroke-width="0.35" textLength="44.8" lengthAdjust="spacingAndGlyphs" >Effect</text>
<text x="70.2" y="1734.4" font-size="18.5" text-anchor="start" font-weight="normal" fill="#000" stroke="#000" stroke-width="0.35" textLength="54.4" lengthAdjust="spacingAndGlyphs" >Sensor</text>
<line x1="150" y1="1708.5" x2="184.2" y2="1708.5" stroke="#000" stroke-width="3.6" />
<rect x="184.2" y="1674" width="84.8" height="255.6" stroke="#000" stroke-width="3.6" fill="none" />
<rect x="201" y="1702.8" width="68" height="63.5" stroke="#000" stroke-width="3.6" fill="none" />
<text x="205" y="1733" font-size="19" text-anchor="start" font-weight="normal" fill="#000" stroke="#000" stroke-width="0.35" textLength="25.1" lengthAdjust="spacingAndGlyphs" >I2C</text>
<text x="205" y="1753.3" font-size="19" text-anchor="start" font-weight="normal" fill="#000" stroke="#000" stroke-width="0.35" textLength="41.7" lengthAdjust="spacingAndGlyphs" >Slave</text>
<text x="202.4" y="1831.6" font-size="21" text-anchor="start" font-weight="normal" fill="#000" stroke="#000" stroke-width="0.35" textLength="23.3" lengthAdjust="spacingAndGlyphs" >µC</text>
<circle cx="354.5" cy="1696.8" r="4.5" stroke="#000" stroke-width="3" fill="none" />
<text x="337.9" y="1687.7" font-size="12.5" text-anchor="start" font-weight="normal" fill="#000" stroke="#000" stroke-width="0.3" textLength="23.4" lengthAdjust="spacingAndGlyphs" >VDD</text>
<path d="M354.5,1701.3 L354.5,1725.0 L422.7,1725.0" stroke="#000" stroke-width="3.6" fill="none" />
<path d="M269,1725.0 L320.8,1725.0 L320.8,1742.05 L422.7,1742.05" stroke="#000" stroke-width="3.6" fill="none" />
<path d="M269,1742.05 L303.5,1742.05 L303.5,1827.3 L422.7,1827.3" stroke="#000" stroke-width="3.6" fill="none" />
<line x1="369.5" y1="1759.1" x2="422.7" y2="1759.1" stroke="#000" stroke-width="3.6" />
<line x1="269" y1="1776.15" x2="422.7" y2="1776.15" stroke="#000" stroke-width="3.6" />
<line x1="269" y1="1793.2" x2="422.7" y2="1793.2" stroke="#000" stroke-width="3.6" />
<line x1="269" y1="1810.25" x2="422.7" y2="1810.25" stroke="#000" stroke-width="3.6" />
<path d="M422.7,1844.35 L354.5,1844.35 L354.5,1878.3" stroke="#000" stroke-width="3.6" fill="none" />
<line x1="335.75" y1="1878.3" x2="373.25" y2="1878.3" stroke="#000" stroke-width="3.6" />
<line x1="341.0" y1="1883.8999999999999" x2="368.0" y2="1883.8999999999999" stroke="#000" stroke-width="3.6" />
<line x1="347.0" y1="1889.3" x2="362.0" y2="1889.3" stroke="#000" stroke-width="3.6" />
<line x1="351.875" y1="1894.6" x2="357.125" y2="1894.6" stroke="#000" stroke-width="3.6" />
<rect x="422.7" y="1708" width="34.5" height="154.2" stroke="#000" stroke-width="3.6" fill="none" />
<rect x="593.7" y="1708" width="34.4" height="154.4" stroke="#000" stroke-width="3.6" fill="none" />
<line x1="457.2" y1="1725.0" x2="593.7" y2="1725.0" stroke="#000" stroke-width="3.6" />
<line x1="457.2" y1="1742.05" x2="593.7" y2="1742.05" stroke="#000" stroke-width="3.6" />
<line x1="457.2" y1="1759.1" x2="593.7" y2="1759.1" stroke="#000" stroke-width="3.6" />
<line x1="457.2" y1="1776.15" x2="593.7" y2="1776.15" stroke="#000" stroke-width="3.6" />
<line x1="457.2" y1="1793.2" x2="593.7" y2="1793.2" stroke="#000" stroke-width="3.6" />
<line x1="457.2" y1="1810.25" x2="593.7" y2="1810.25" stroke="#000" stroke-width="3.6" />
<line x1="457.2" y1="1827.3" x2="593.7" y2="1827.3" stroke="#000" stroke-width="3.6" />
<line x1="457.2" y1="1844.35" x2="593.7" y2="1844.35" stroke="#000" stroke-width="3.6" />
<text x="407" y="1719.6" font-size="14" text-anchor="start" font-weight="normal" fill="#000" stroke="#000" stroke-width="0.3" textLength="8.5" lengthAdjust="spacingAndGlyphs" >1</text>
<text x="407" y="1736.55" font-size="14" text-anchor="start" font-weight="normal" fill="#000" stroke="#000" stroke-width="0.3" textLength="8.5" lengthAdjust="spacingAndGlyphs" >2</text>
<text x="407" y="1753.5" font-size="14" text-anchor="start" font-weight="normal" fill="#000" stroke="#000" stroke-width="0.3" textLength="8.5" lengthAdjust="spacingAndGlyphs" >3</text>
<text x="407" y="1770.4499999999998" font-size="14" text-anchor="start" font-weight="normal" fill="#000" stroke="#000" stroke-width="0.3" textLength="8.5" lengthAdjust="spacingAndGlyphs" >4</text>
<text x="407" y="1787.3999999999999" font-size="14" text-anchor="start" font-weight="normal" fill="#000" stroke="#000" stroke-width="0.3" textLength="8.5" lengthAdjust="spacingAndGlyphs" >5</text>
<text x="407" y="1804.35" font-size="14" text-anchor="start" font-weight="normal" fill="#000" stroke="#000" stroke-width="0.3" textLength="8.5" lengthAdjust="spacingAndGlyphs" >6</text>
<text x="407" y="1821.3" font-size="14" text-anchor="start" font-weight="normal" fill="#000" stroke="#000" stroke-width="0.3" textLength="8.5" lengthAdjust="spacingAndGlyphs" >7</text>
<text x="407" y="1838.25" font-size="14" text-anchor="start" font-weight="normal" fill="#000" stroke="#000" stroke-width="0.3" textLength="8.5" lengthAdjust="spacingAndGlyphs" >8</text>
<text x="345" y="1741" font-size="13" text-anchor="start" font-weight="normal" fill="#000" stroke="#000" stroke-width="0.3" textLength="20.7" lengthAdjust="spacingAndGlyphs" >SDA</text>
<text x="338" y="1774.6" font-size="13" text-anchor="start" font-weight="normal" fill="#000" stroke="#000" stroke-width="0.3" textLength="26.4" lengthAdjust="spacingAndGlyphs" >INTn</text>
<text x="338" y="1791.4" font-size="13" text-anchor="start" font-weight="normal" fill="#000" stroke="#000" stroke-width="0.3" textLength="22.5" lengthAdjust="spacingAndGlyphs" >PBn</text>
<text x="339.8" y="1809" font-size="13" text-anchor="start" font-weight="normal" fill="#000" stroke="#000" stroke-width="0.3" textLength="14.3" lengthAdjust="spacingAndGlyphs" >A1</text>
<text x="339.5" y="1825" font-size="13" text-anchor="start" font-weight="normal" fill="#000" stroke="#000" stroke-width="0.3" textLength="21.5" lengthAdjust="spacingAndGlyphs" >SCL</text>
<text x="115.5" y="1813.5" font-size="13" text-anchor="start" font-weight="normal" fill="#000" stroke="#000" stroke-width="0.3" textLength="15.5" lengthAdjust="spacingAndGlyphs" >PB</text>
<text x="96.9" y="1828.2" font-size="13" text-anchor="start" font-weight="normal" fill="#000" stroke="#000" stroke-width="0.3" textLength="55.4" lengthAdjust="spacingAndGlyphs" >(OPTION)</text>
<line x1="97.4" y1="1842" x2="151.3" y2="1842" stroke="#000" stroke-width="5" />
<rect x="118.5" y="1834.5" width="11" height="7.5" stroke="#000" stroke-width="2.6" fill="none" />
<circle cx="103.9" cy="1862.2" r="4.5" stroke="#000" stroke-width="3" fill="none" />
<circle cx="144.8" cy="1862.2" r="4.5" stroke="#000" stroke-width="3" fill="none" />
<line x1="149.3" y1="1862.2" x2="184.2" y2="1862.2" stroke="#000" stroke-width="3.6" />
<path d="M99.4,1862.2 L81.3,1862.2 L81.3,1878.3" stroke="#000" stroke-width="3.6" fill="none" />
<line x1="62.55" y1="1878.3" x2="100.05" y2="1878.3" stroke="#000" stroke-width="3.6" />
<line x1="67.8" y1="1883.8999999999999" x2="94.8" y2="1883.8999999999999" stroke="#000" stroke-width="3.6" />
<line x1="73.8" y1="1889.3" x2="88.8" y2="1889.3" stroke="#000" stroke-width="3.6" />
<line x1="78.675" y1="1894.6" x2="83.925" y2="1894.6" stroke="#000" stroke-width="3.6" />
<text x="53.3" y="1930.9" font-size="13" text-anchor="start" font-weight="normal" fill="#000" stroke="#000" stroke-width="0.3" textLength="34.2" lengthAdjust="spacingAndGlyphs" >3 POS</text>
<text x="53.3" y="1952.1" font-size="13" text-anchor="start" font-weight="normal" fill="#000" stroke="#000" stroke-width="0.3" textLength="54.4" lengthAdjust="spacingAndGlyphs" >MOM SW</text>
<text x="53.3" y="1971.6" font-size="13" text-anchor="start" font-weight="normal" fill="#000" stroke="#000" stroke-width="0.3" textLength="55" lengthAdjust="spacingAndGlyphs" >(OPTION)</text>
<circle cx="148" cy="1950.3" r="4.5" stroke="#000" stroke-width="3" fill="none" />
<path d="M152.5,1950.3 L204.2,1950.3 L204.2,1929.6" stroke="#000" stroke-width="3.6" fill="none" />
<text x="162.2" y="1947" font-size="13" text-anchor="start" font-weight="normal" fill="#000" stroke="#000" stroke-width="0.3" textLength="28.5" lengthAdjust="spacingAndGlyphs" >CCW</text>
<circle cx="107.2" cy="1985" r="4.5" stroke="#000" stroke-width="3" fill="none" />
<circle cx="158.3" cy="1985" r="4.5" stroke="#000" stroke-width="3" fill="none" />
<line x1="111.7" y1="1985" x2="153.8" y2="1985" stroke="#000" stroke-width="3.6" />
<path d="M128,1975 Q136,1985 128,1995" stroke="#000" stroke-width="3" fill="none" />
<line x1="127" y1="1974" x2="130" y2="1977" stroke="#000" stroke-width="3" />
<line x1="127" y1="1996" x2="130" y2="1993" stroke="#000" stroke-width="3" />
<circle cx="145.5" cy="1985" r="2.2" stroke="#000" stroke-width="0" fill="#000" stroke="none"/>
<path d="M102.7,1985 L74,1985 L74,2001.7" stroke="#000" stroke-width="3.6" fill="none" />
<line x1="55.25" y1="2001.7" x2="92.75" y2="2001.7" stroke="#000" stroke-width="3.6" />
<line x1="60.5" y1="2007.3" x2="87.5" y2="2007.3" stroke="#000" stroke-width="3.6" />
<line x1="66.5" y1="2012.7" x2="81.5" y2="2012.7" stroke="#000" stroke-width="3.6" />
<line x1="71.375" y1="2018.0" x2="76.625" y2="2018.0" stroke="#000" stroke-width="3.6" />
<circle cx="148" cy="2018.7" r="4.5" stroke="#000" stroke-width="3" fill="none" />
<path d="M152.5,2018.7 L227,2018.7 L227,1929.6" stroke="#000" stroke-width="3.6" fill="none" />
<text x="163.5" y="2015.6" font-size="13" text-anchor="start" font-weight="normal" fill="#000" stroke="#000" stroke-width="0.3" textLength="20.7" lengthAdjust="spacingAndGlyphs" >CW</text>
<rect x="610.4" y="1554" width="393.6" height="478.8" stroke="#000" stroke-width="3.6" fill="none" />
<text x="799.2" y="1591.8" font-size="19.5" text-anchor="start" font-weight="normal" fill="#000" stroke="#000" stroke-width="0.35" textLength="86.8" lengthAdjust="spacingAndGlyphs" >HOST CPU</text>
<circle cx="678.9" cy="1593.5" r="4.5" stroke="#000" stroke-width="3" fill="none" />
<text x="662.2" y="1585" font-size="12.5" text-anchor="start" font-weight="normal" fill="#000" stroke="#000" stroke-width="0.3" textLength="23.4" lengthAdjust="spacingAndGlyphs" >VDD</text>
<path d="M678.9,1598 L678.9,1724.8 L628.1,1724.8" stroke="#000" stroke-width="3.6" fill="none" />
<line x1="678.9" y1="1621.9" x2="815.9" y2="1621.9" stroke="#000" stroke-width="3.6" />
<circle cx="678.9" cy="1621.9" r="4.3" stroke="#000" stroke-width="0" fill="#000" stroke="none"/>
<circle cx="713.3" cy="1621.9" r="4.3" stroke="#000" stroke-width="0" fill="#000" stroke="none"/>
<circle cx="747.4" cy="1621.9" r="4.3" stroke="#000" stroke-width="0" fill="#000" stroke="none"/>
<circle cx="781.5" cy="1621.9" r="4.3" stroke="#000" stroke-width="0" fill="#000" stroke="none"/>
<path d="M713.3,1621.9 L713.3,1638.0 L719.3,1643.0 L707.3,1651.0 L719.3,1659.0 L707.3,1667.0 L719.3,1675.0 L707.3,1683.0 L713.3,1687.0 L713.3,1793.2" stroke="#000" stroke-width="3.4" fill="none" stroke-linejoin="round"/>
<path d="M747.4,1621.9 L747.4,1638.0 L753.4,1643.0 L741.4,1651.0 L753.4,1659.0 L741.4,1667.0 L753.4,1675.0 L741.4,1683.0 L747.4,1687.0 L747.4,1742.0" stroke="#000" stroke-width="3.4" fill="none" stroke-linejoin="round"/>
<path d="M781.5,1621.9 L781.5,1638.0 L787.5,1643.0 L775.5,1651.0 L787.5,1659.0 L775.5,1667.0 L787.5,1675.0 L775.5,1683.0 L781.5,1687.0 L781.5,1759.1" stroke="#000" stroke-width="3.4" fill="none" stroke-linejoin="round"/>
<path d="M815.9,1621.9 L815.9,1638.0 L821.9,1643.0 L809.9,1651.0 L821.9,1659.0 L809.9,1667.0 L821.9,1675.0 L809.9,1683.0 L815.9,1687.0 L815.9,1793.2" stroke="#000" stroke-width="3.4" fill="none" stroke-linejoin="round"/>
<line x1="815.9" y1="1793.2" x2="884.4" y2="1793.2" stroke="#000" stroke-width="3.6" />
<circle cx="713.3" cy="1793.2" r="4.3" stroke="#000" stroke-width="0" fill="#000" stroke="none"/>
<circle cx="747.4" cy="1742.05" r="4.3" stroke="#000" stroke-width="0" fill="#000" stroke="none"/>
<circle cx="781.5" cy="1759.1" r="4.3" stroke="#000" stroke-width="0" fill="#000" stroke="none"/>
<circle cx="815.9" cy="1776.15" r="4.3" stroke="#000" stroke-width="0" fill="#000" stroke="none"/>
<text x="715.6" y="1660.3" font-size="14" text-anchor="start" font-weight="normal" fill="#000" stroke="#000" stroke-width="0.3" textLength="29" lengthAdjust="spacingAndGlyphs" >10K*</text>
<text x="750.7" y="1660.3" font-size="14" text-anchor="start" font-weight="normal" fill="#000" stroke="#000" stroke-width="0.3" textLength="23.4" lengthAdjust="spacingAndGlyphs" >Rp*</text>
<text x="784.8" y="1660.3" font-size="14" text-anchor="start" font-weight="normal" fill="#000" stroke="#000" stroke-width="0.3" textLength="22.7" lengthAdjust="spacingAndGlyphs" >Rp*</text>
<text x="819.2" y="1660.3" font-size="14" text-anchor="start" font-weight="normal" fill="#000" stroke="#000" stroke-width="0.3" textLength="26.7" lengthAdjust="spacingAndGlyphs" >10K*</text>
<line x1="628.1" y1="1742.05" x2="884.4" y2="1742.05" stroke="#000" stroke-width="3.6" />
<line x1="628.1" y1="1759.1" x2="685.6" y2="1759.1" stroke="#000" stroke-width="3.6" />
<line x1="628.1" y1="1776.15" x2="815.9" y2="1776.15" stroke="#000" stroke-width="3.6" />
<path d="M628.1,1793.2 L799.2,1793.2 L799.2,1810.25 L884.4,1810.25" stroke="#000" stroke-width="3.6" fill="none" />
<path d="M628.1,1810.25 L713.3,1810.25 L713.3,1913.5" stroke="#000" stroke-width="3.6" fill="none" />
<path d="M628.1,1827.3 L764.8,1827.3 L764.8,1759.1 L884.4,1759.1" stroke="#000" stroke-width="3.6" fill="none" />
<path d="M628.1,1844.35 L678.9,1844.35 L678.9,1862.4" stroke="#000" stroke-width="3.6" fill="none" />
<line x1="660.5" y1="1862.4" x2="697.3" y2="1862.4" stroke="#000" stroke-width="3.6" />
<line x1="665.6519999999999" y1="1868.0" x2="692.148" y2="1868.0" stroke="#000" stroke-width="3.6" />
<line x1="671.54" y1="1873.4" x2="686.26" y2="1873.4" stroke="#000" stroke-width="3.6" />
<line x1="676.324" y1="1878.7" x2="681.476" y2="1878.7" stroke="#000" stroke-width="3.6" />
<text x="638.8" y="1720.4" font-size="14" text-anchor="start" font-weight="normal" fill="#000" stroke="#000" stroke-width="0.3" textLength="8.5" lengthAdjust="spacingAndGlyphs" >1</text>
<text x="638.8" y="1737.3500000000001" font-size="14" text-anchor="start" font-weight="normal" fill="#000" stroke="#000" stroke-width="0.3" textLength="8.5" lengthAdjust="spacingAndGlyphs" >2</text>
<text x="638.8" y="1754.3000000000002" font-size="14" text-anchor="start" font-weight="normal" fill="#000" stroke="#000" stroke-width="0.3" textLength="8.5" lengthAdjust="spacingAndGlyphs" >3</text>
<text x="638.8" y="1771.25" font-size="14" text-anchor="start" font-weight="normal" fill="#000" stroke="#000" stroke-width="0.3" textLength="8.5" lengthAdjust="spacingAndGlyphs" >4</text>
<text x="638.8" y="1788.2" font-size="14" text-anchor="start" font-weight="normal" fill="#000" stroke="#000" stroke-width="0.3" textLength="8.5" lengthAdjust="spacingAndGlyphs" >5</text>
<text x="638.8" y="1805.15" font-size="14" text-anchor="start" font-weight="normal" fill="#000" stroke="#000" stroke-width="0.3" textLength="8.5" lengthAdjust="spacingAndGlyphs" >6</text>
<text x="638.8" y="1822.1000000000001" font-size="14" text-anchor="start" font-weight="normal" fill="#000" stroke="#000" stroke-width="0.3" textLength="8.5" lengthAdjust="spacingAndGlyphs" >7</text>
<text x="638.8" y="1839.0500000000002" font-size="14" text-anchor="start" font-weight="normal" fill="#000" stroke="#000" stroke-width="0.3" textLength="8.5" lengthAdjust="spacingAndGlyphs" >8</text>
<text x="681.2" y="1809" font-size="13" text-anchor="start" font-weight="normal" fill="#000" stroke="#000" stroke-width="0.3" textLength="14.4" lengthAdjust="spacingAndGlyphs" >A1</text>
<rect x="695.6" y="1895.8" width="51.8" height="68.5" stroke="#000" stroke-width="3.6" fill="none" />
<path d="M713.3,1913.5 A16.75,16.75 0 0 1 713.3,1947" stroke="#000" stroke-width="3.6" fill="none" />
<circle cx="713.3" cy="1913.5" r="3.5" stroke="#000" stroke-width="0" fill="#000" stroke="none"/>
<circle cx="713.3" cy="1947" r="3.5" stroke="#000" stroke-width="0" fill="#000" stroke="none"/>
<line x1="713.3" y1="1947" x2="713.3" y2="1981.7" stroke="#000" stroke-width="3.6" />
<line x1="694.9" y1="1981.7" x2="731.6999999999999" y2="1981.7" stroke="#000" stroke-width="3.6" />
<line x1="700.0519999999999" y1="1987.3" x2="726.548" y2="1987.3" stroke="#000" stroke-width="3.6" />
<line x1="705.9399999999999" y1="1992.7" x2="720.66" y2="1992.7" stroke="#000" stroke-width="3.6" />
<line x1="710.7239999999999" y1="1998.0" x2="715.876" y2="1998.0" stroke="#000" stroke-width="3.6" />
<text x="752.4" y="1919.2" font-size="14.5" text-anchor="start" font-weight="normal" fill="#000" stroke="#000" stroke-width="0.3" textLength="127" lengthAdjust="spacingAndGlyphs" >SELECT I2C ADDRESS</text>
<text x="752.4" y="1936" font-size="14.5" text-anchor="start" font-weight="normal" fill="#000" stroke="#000" stroke-width="0.3" textLength="118" lengthAdjust="spacingAndGlyphs" >JUMPER OUT = 42H</text>
<text x="752.4" y="1952.6" font-size="14.5" text-anchor="start" font-weight="normal" fill="#000" stroke="#000" stroke-width="0.3" textLength="104.6" lengthAdjust="spacingAndGlyphs" >JUMPER IN = 40H</text>
<rect x="884.4" y="1673.6" width="102.9" height="222.9" stroke="#000" stroke-width="3.6" fill="none" />
<path d="M884.4,1714.4 L971.2,1714.4 L971.2,1771.2" stroke="#000" stroke-width="3.6" fill="none" />
<text x="892.7" y="1740.5" font-size="15" text-anchor="start" font-weight="normal" fill="#000" stroke="#000" stroke-width="0.3" textLength="20" lengthAdjust="spacingAndGlyphs" >I2C</text>
<text x="892.7" y="1763.2" font-size="15" text-anchor="start" font-weight="normal" fill="#000" stroke="#000" stroke-width="0.3" textLength="42.8" lengthAdjust="spacingAndGlyphs" >Master</text>
<text x="902.7" y="1832.4" font-size="20" text-anchor="start" font-weight="normal" fill="#000" stroke="#000" stroke-width="0.35" textLength="22.4" lengthAdjust="spacingAndGlyphs" >µC</text>
<text x="831" y="1740.5" font-size="14" text-anchor="start" font-weight="normal" fill="#000" stroke="#000" stroke-width="0.3" textLength="25" lengthAdjust="spacingAndGlyphs" >SDA</text>
<text x="829.5" y="1757" font-size="14" text-anchor="start" font-weight="normal" fill="#000" stroke="#000" stroke-width="0.3" textLength="21.7" lengthAdjust="spacingAndGlyphs" >SCL</text>
<text x="833.5" y="1792.2" font-size="14" text-anchor="start" font-weight="normal" fill="#000" stroke="#000" stroke-width="0.3" textLength="25.7" lengthAdjust="spacingAndGlyphs" >INTn</text>
<text x="833.5" y="1809" font-size="14" text-anchor="start" font-weight="normal" fill="#000" stroke="#000" stroke-width="0.3" textLength="21.7" lengthAdjust="spacingAndGlyphs" >PBn</text>
<text x="645.5" y="2029.5" font-size="17" text-anchor="start" font-weight="normal" fill="#000" stroke="#000" stroke-width="0.35" textLength="258.2" lengthAdjust="spacingAndGlyphs" >* PULL-UP RESISTORS REQUIRED</text>
<text x="174.8" y="2142.4" font-size="28.5" text-anchor="start" font-weight="normal" fill="#000" stroke="#000" stroke-width="0.35" textLength="94.2" lengthAdjust="spacingAndGlyphs" >JOYSTICK</text>
<text x="108.9" y="2178.2" font-size="28.5" text-anchor="start" font-weight="normal" fill="#000" stroke="#000" stroke-width="0.35" textLength="207.7" lengthAdjust="spacingAndGlyphs" >OUTPUT WAVEFORM</text>
<line x1="527.3" y1="2099.6" x2="527.3" y2="2621.5" stroke="#000" stroke-width="5.2" />
<line x1="31.1" y1="2360.5" x2="1034.6" y2="2360.5" stroke="#000" stroke-width="5.2" />
<line x1="535" y1="2140.2" x2="1001.9" y2="2140.2" stroke="#000" stroke-width="3.6" stroke-dasharray="12.8,12.5" stroke-linecap="round"/>
<line x1="1001.9" y1="2140.2" x2="1001.9" y2="2357" stroke="#000" stroke-width="3.6" stroke-dasharray="12.8,12.5" stroke-linecap="round"/>
<line x1="52.3" y1="2363" x2="52.3" y2="2581" stroke="#000" stroke-width="3.6" stroke-dasharray="12.8,12.5" stroke-linecap="round"/>
<line x1="60" y1="2581.7" x2="522" y2="2581.7" stroke="#000" stroke-width="3.3" stroke-dasharray="12.8,12.5" stroke-linecap="round"/>
<line x1="52.3" y1="2581" x2="433.9" y2="2361" stroke="#000" stroke-width="4" />
<line x1="615.3" y1="2358.4" x2="1001.9" y2="2140.2" stroke="#000" stroke-width="4" />
<text x="35.8" y="2345.5" font-size="25" text-anchor="start" font-weight="normal" fill="#000" stroke="#000" stroke-width="0.35" textLength="36.4" lengthAdjust="spacingAndGlyphs" >-20°</text>
<text x="385" y="2345.5" font-size="25" text-anchor="start" font-weight="normal" fill="#000" stroke="#000" stroke-width="0.35" textLength="60.4" lengthAdjust="spacingAndGlyphs" >-3°±2°</text>
<text x="496" y="2147.3" font-size="25" text-anchor="start" font-weight="normal" fill="#000" stroke="#000" stroke-width="0.35" textLength="23" lengthAdjust="spacingAndGlyphs" >50</text>
<text x="537.5" y="2383.4" font-size="25" text-anchor="start" font-weight="normal" fill="#000" stroke="#000" stroke-width="0.35" textLength="10" lengthAdjust="spacingAndGlyphs" >0</text>
<text x="613" y="2383.4" font-size="25" text-anchor="start" font-weight="normal" fill="#000" stroke="#000" stroke-width="0.35" textLength="52.4" lengthAdjust="spacingAndGlyphs" >3°±2°</text>
<text x="989.5" y="2386.8" font-size="25" text-anchor="start" font-weight="normal" fill="#000" stroke="#000" stroke-width="0.35" textLength="29.1" lengthAdjust="spacingAndGlyphs" >20°</text>
<text x="673" y="2414.2" font-size="17.5" text-anchor="start" font-weight="normal" fill="#000" stroke="#000" stroke-width="0.35" textLength="166.2" lengthAdjust="spacingAndGlyphs" >DEGREES SHAFT TRAVEL, °</text>
<text x="722.2" y="2546.8" font-size="27.5" text-anchor="start" font-weight="normal" fill="#000" stroke="#000" stroke-width="0.35" textLength="138.8" lengthAdjust="spacingAndGlyphs" >NOT TO SCALE</text>
<text x="534" y="2587.2" font-size="25" text-anchor="start" font-weight="normal" fill="#000" stroke="#000" stroke-width="0.35" textLength="30.2" lengthAdjust="spacingAndGlyphs" >-50</text>
<g transform="translate(499.2,2320.6) rotate(-90)">
<text x="0" y="0" font-size="19" text-anchor="start" font-weight="normal" fill="#000" stroke="#000" stroke-width="0.35" textLength="117" lengthAdjust="spacingAndGlyphs" >JOYSTICK OUTPUT</text>
</g>
<g transform="translate(517.9,2329) rotate(-90)">
<text x="0" y="0" font-size="19" text-anchor="start" font-weight="normal" fill="#000" stroke="#000" stroke-width="0.35" textLength="123" lengthAdjust="spacingAndGlyphs" >ALONG X OR Y AXIS</text>
</g>
<text x="1482.9" y="1635.4" font-size="31" text-anchor="start" font-weight="normal" fill="#000" stroke="#000" stroke-width="0.35" textLength="106.1" lengthAdjust="spacingAndGlyphs" >JOYSTICK</text>
<text x="1410.4" y="1671" font-size="31" text-anchor="start" font-weight="normal" fill="#000" stroke="#000" stroke-width="0.35" textLength="241" lengthAdjust="spacingAndGlyphs" >OPERATIONAL LIMITS</text>
<text x="1339" y="1710.4" font-size="26" text-anchor="start" font-weight="normal" fill="#000" stroke="#000" stroke-width="0.35" textLength="453.5" lengthAdjust="spacingAndGlyphs" >SIDE OF PRINTED CIRCUIT BOARD PROTRUSION</text>
<text x="1330" y="1739" font-size="26" text-anchor="start" font-weight="normal" fill="#000" stroke="#000" stroke-width="0.35" textLength="473.2" lengthAdjust="spacingAndGlyphs" >INDICATES +Y DIRECTION FOR JOYSTICK OUTPUT</text>
<circle cx="1542.8" cy="2071.8" r="208.4" stroke="#000" stroke-width="4.6" fill="none" />
<circle cx="1543" cy="2072" r="83" stroke="#000" stroke-width="4.6" fill="none" />
<line x1="1276.4" y1="2072" x2="1800.7" y2="2072" stroke="#000" stroke-width="3.2" />
<line x1="1543.2" y1="1813.9" x2="1543.2" y2="2024.6" stroke="#000" stroke-width="3.2" />
<line x1="1543.2" y1="2054" x2="1543.2" y2="2090" stroke="#000" stroke-width="3.2" />
<line x1="1543.2" y1="2120.4" x2="1543.2" y2="2336.4" stroke="#000" stroke-width="3.2" />
<text x="1496" y="1851.4" font-size="28" text-anchor="start" font-weight="normal" fill="#000" stroke="#000" stroke-width="0.35" textLength="28.6" lengthAdjust="spacingAndGlyphs" >+Y</text>
<text x="1549.6" y="1851.4" font-size="25" text-anchor="start" font-weight="normal" fill="#000" stroke="#000" stroke-width="0.35" textLength="52.4" lengthAdjust="spacingAndGlyphs" >(0,50)</text>
<text x="1547.9" y="1980" font-size="25" text-anchor="start" font-weight="normal" fill="#000" stroke="#000" stroke-width="0.35" textLength="40" lengthAdjust="spacingAndGlyphs" >(0,1)</text>
<text x="1504.3" y="2049.6" font-size="25" text-anchor="start" font-weight="normal" fill="#000" stroke="#000" stroke-width="0.35" textLength="58.6" lengthAdjust="spacingAndGlyphs" >SLEEP</text>
<text x="1249.6" y="2062.1" font-size="25" text-anchor="start" font-weight="normal" fill="#000" stroke="#000" stroke-width="0.35" textLength="59.7" lengthAdjust="spacingAndGlyphs" >(-50,0)</text>
<text x="1387" y="2062.1" font-size="25" text-anchor="start" font-weight="normal" fill="#000" stroke="#000" stroke-width="0.35" textLength="48.4" lengthAdjust="spacingAndGlyphs" >(-1,0)</text>
<text x="1769.3" y="2058.6" font-size="28" text-anchor="start" font-weight="normal" fill="#000" stroke="#000" stroke-width="0.35" textLength="29.3" lengthAdjust="spacingAndGlyphs" >+X</text>
<text x="1628.2" y="2096" font-size="25" text-anchor="start" font-weight="normal" fill="#000" stroke="#000" stroke-width="0.35" textLength="40.4" lengthAdjust="spacingAndGlyphs" >(1,0)</text>
<text x="1756.8" y="2096" font-size="25" text-anchor="start" font-weight="normal" fill="#000" stroke="#000" stroke-width="0.35" textLength="51.8" lengthAdjust="spacingAndGlyphs" >(50,0)</text>
<text x="1275.7" y="2107.9" font-size="28" text-anchor="start" font-weight="normal" fill="#000" stroke="#000" stroke-width="0.35" textLength="21.3" lengthAdjust="spacingAndGlyphs" >-X</text>
<text x="1508.6" y="2122.1" font-size="25" text-anchor="start" font-weight="normal" fill="#000" stroke="#000" stroke-width="0.35" textLength="57.1" lengthAdjust="spacingAndGlyphs" >ZONE</text>
<text x="1468.6" y="2179.3" font-size="25" text-anchor="start" font-weight="normal" fill="#000" stroke="#000" stroke-width="0.35" textLength="47.1" lengthAdjust="spacingAndGlyphs" >(0,-1)</text>
<text x="1456.8" y="2302.5" font-size="25" text-anchor="start" font-weight="normal" fill="#000" stroke="#000" stroke-width="0.35" textLength="59.6" lengthAdjust="spacingAndGlyphs" >(0,-50)</text>
<text x="1556.8" y="2309.6" font-size="28" text-anchor="start" font-weight="normal" fill="#000" stroke="#000" stroke-width="0.35" textLength="20.3" lengthAdjust="spacingAndGlyphs" >-Y</text>
<text x="1480" y="2374" font-size="27" text-anchor="start" font-weight="normal" fill="#000" stroke="#000" stroke-width="0.35" textLength="138.6" lengthAdjust="spacingAndGlyphs" >NOT TO SCALE</text>
<text x="1866.1" y="1610.8" font-size="28" text-anchor="start" font-weight="normal" fill="#000" stroke="#000" stroke-width="0.35" textLength="207.9" lengthAdjust="spacingAndGlyphs" >+Y JOYSTICK OUTPUT</text>
<line x1="1963.3" y1="1628" x2="1963.3" y2="1680.1" stroke="#000" stroke-width="2.2" />
<path d="M1956,1637.3 L1963.3,1627.3 L1971.2,1637.7" stroke="#000" stroke-width="2.2" fill="none" />
<circle cx="1963.7" cy="1809.7" r="90.9" stroke="#000" stroke-width="3.6" fill="#fff" />
<path d="M1924.6,1727.5 L1924.6,1722 Q1924.6,1711.5 1912,1711.5 M2002.4,1727.5 L2002.4,1722 Q2002.4,1711.5 2015,1711.5" stroke="#000" stroke-width="3.4" fill="none" />
<path d="M1924.6,1718.9 L1900.4,1718.9 L1900.4,1688.2 L2027.4,1688.2 L2027.4,1718.9 L2002.4,1718.9" stroke="#000" stroke-width="3.6" fill="none" stroke-linejoin="round"/>
<rect x="1909" y="1690.5" width="109" height="6" stroke="#000" stroke-width="0" fill="#000" stroke="none"/>
<line x1="1912" y1="1693.4" x2="2015" y2="1693.4" stroke="#fff" stroke-width="1.6" stroke-dasharray="6,2.5,1.5,2.5" stroke-linecap="butt"/>
<line x1="1909.9" y1="1691" x2="1909.9" y2="1718" stroke="#000" stroke-width="2.8" />
<line x1="2017" y1="1691" x2="2017" y2="1718" stroke="#000" stroke-width="2.8" />
<line x1="1911" y1="1715" x2="1916" y2="1715" stroke="#000" stroke-width="2" />
<line x1="2011" y1="1715" x2="2016" y2="1715" stroke="#000" stroke-width="2" />
<circle cx="1913.3" cy="1703.3" r="4.4" stroke="#000" stroke-width="0" fill="#000" stroke="none"/>
<circle cx="1928" cy="1703.3" r="4.4" stroke="#000" stroke-width="0" fill="#000" stroke="none"/>
<circle cx="1942.3" cy="1703.3" r="4.4" stroke="#000" stroke-width="0" fill="#000" stroke="none"/>
<circle cx="1956.5" cy="1703.3" r="4.4" stroke="#000" stroke-width="0" fill="#000" stroke="none"/>
<circle cx="1971.2" cy="1703.3" r="4.4" stroke="#000" stroke-width="0" fill="#000" stroke="none"/>
<circle cx="1985.5" cy="1703.3" r="4.4" stroke="#000" stroke-width="0" fill="#000" stroke="none"/>
<circle cx="1999.8" cy="1703.3" r="4.4" stroke="#000" stroke-width="0" fill="#000" stroke="none"/>
<circle cx="2014.5" cy="1703.3" r="4.4" stroke="#000" stroke-width="0" fill="#000" stroke="none"/>
<circle cx="1908.6" cy="1703.3" r="4.3" stroke="#000" stroke-width="2.2" fill="none" />
<circle cx="2019.2" cy="1703.3" r="4.3" stroke="#000" stroke-width="2.2" fill="none" />
<circle cx="1963.7" cy="1809.7" r="70.2" stroke="#000" stroke-width="6.5" fill="none" />
<circle cx="1963.7" cy="1809.7" r="57" stroke="#000" stroke-width="2.8" fill="none" />
<circle cx="1963.7" cy="1809.7" r="53.8" stroke="#000" stroke-width="2.2" fill="none" />
<circle cx="1963.7" cy="1809.7" r="48" stroke="#aaa" stroke-width="2.6" fill="none" />
<circle cx="1963.7" cy="1809.7" r="19.3" stroke="#000" stroke-width="0" fill="#000" stroke="none"/>
<circle cx="1963.7" cy="1809.7" r="14.5" stroke="#fff" stroke-width="1" fill="none" />
<circle cx="1963.7" cy="1809.7" r="7.3" stroke="#000" stroke-width="0" fill="#fff" stroke="none"/>
<circle cx="1963.7" cy="1731.3" r="6" stroke="#000" stroke-width="3.2" fill="#fff" />
<circle cx="1884.3" cy="1809.7" r="6" stroke="#000" stroke-width="3.2" fill="#fff" />
<circle cx="2042.7" cy="1809.7" r="6" stroke="#000" stroke-width="3.2" fill="#fff" />
<circle cx="1963.7" cy="1889" r="6" stroke="#000" stroke-width="3.2" fill="#fff" />
<text x="1873.4" y="1947.6" font-size="26" text-anchor="start" font-weight="normal" fill="#000" stroke="#000" stroke-width="0.35" textLength="214.2" lengthAdjust="spacingAndGlyphs" >SHAFT FLAT OPPOSITE</text>
<text x="1894.7" y="1971.6" font-size="26" text-anchor="start" font-weight="normal" fill="#000" stroke="#000" stroke-width="0.35" textLength="168.5" lengthAdjust="spacingAndGlyphs" >PCB PROTRUSION</text>
</svg></body></html>
